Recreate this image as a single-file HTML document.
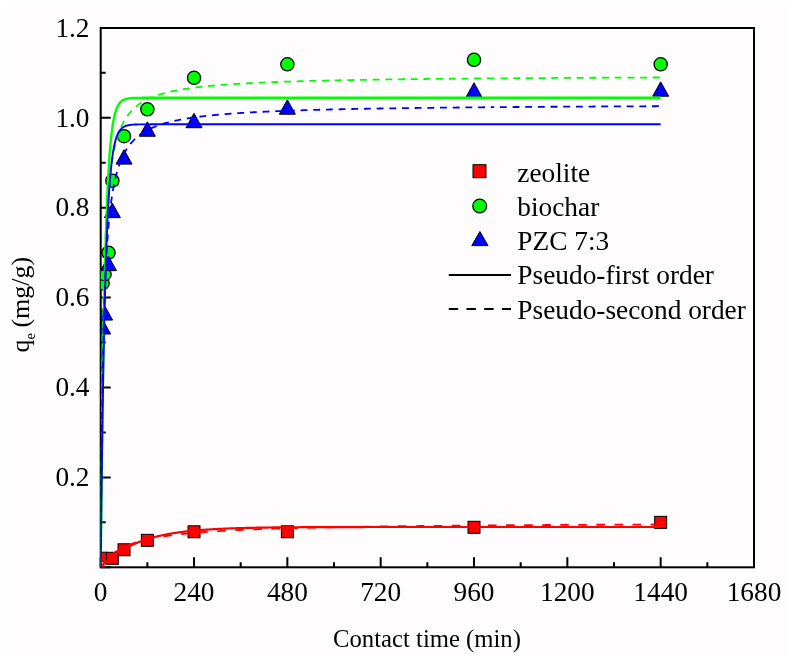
<!DOCTYPE html>
<html><head><meta charset="utf-8"><style>
html,body{margin:0;padding:0;background:#fff;}
svg{display:block;will-change:transform;}
text{font-family:"Liberation Serif",serif;fill:#000;}
</style></head><body>
<svg width="788" height="662" viewBox="0 0 788 662">
<defs>
<clipPath id="pc"><rect x="100.70" y="28.00" width="653.30" height="539.30"/></clipPath>
</defs>
<rect x="0" y="0" width="788" height="662" fill="#fff"/>
<rect x="7" y="7" width="781" height="649" fill="#fefcfc"/>

<path d="M100.70 567.30V557.30 M147.36 567.30V562.30 M194.03 567.30V557.30 M240.69 567.30V562.30 M287.36 567.30V557.30 M334.02 567.30V562.30 M380.69 567.30V557.30 M427.35 567.30V562.30 M474.01 567.30V557.30 M520.68 567.30V562.30 M567.34 567.30V557.30 M614.01 567.30V562.30 M660.67 567.30V557.30 M707.34 567.30V562.30 M754.00 567.30V557.30 M100.70 567.30H110.70 M100.70 522.35H105.70 M100.70 477.40H110.70 M100.70 432.45H105.70 M100.70 387.50H110.70 M100.70 342.55H105.70 M100.70 297.60H110.70 M100.70 252.65H105.70 M100.70 207.70H110.70 M100.70 162.75H105.70 M100.70 117.80H110.70 M100.70 72.85H105.70" stroke="#000" stroke-width="2" fill="none"/>
<rect x="100.70" y="28.00" width="653.30" height="539.30" fill="none" stroke="#000" stroke-width="2"/>
<g clip-path="url(#pc)">
<rect x="96" y="552.2" width="10.5" height="9.1" fill="#ff0000" stroke="#000" stroke-width="1"/>
<rect x="106.37" y="552.31" width="12.0" height="12.0" fill="#ff0000" stroke="#000" stroke-width="1"/>
<rect x="118.03" y="543.77" width="12.0" height="12.0" fill="#ff0000" stroke="#000" stroke-width="1"/>
<rect x="141.36" y="534.33" width="12.0" height="12.0" fill="#ff0000" stroke="#000" stroke-width="1"/>
<rect x="188.03" y="525.79" width="12.0" height="12.0" fill="#ff0000" stroke="#000" stroke-width="1"/>
<rect x="281.36" y="525.79" width="12.0" height="12.0" fill="#ff0000" stroke="#000" stroke-width="1"/>
<rect x="468.01" y="521.29" width="12.0" height="12.0" fill="#ff0000" stroke="#000" stroke-width="1"/>
<rect x="654.67" y="516.35" width="12.0" height="12.0" fill="#ff0000" stroke="#000" stroke-width="1"/>
<circle cx="102.64" cy="283.22" r="6.6" fill="#00ff00" stroke="#000" stroke-width="1.3"/>
<circle cx="104.59" cy="274.23" r="6.6" fill="#00ff00" stroke="#000" stroke-width="1.3"/>
<circle cx="108.48" cy="252.65" r="6.6" fill="#00ff00" stroke="#000" stroke-width="1.3"/>
<circle cx="112.37" cy="180.73" r="6.6" fill="#00ff00" stroke="#000" stroke-width="1.3"/>
<circle cx="124.03" cy="136.23" r="6.6" fill="#00ff00" stroke="#000" stroke-width="1.3"/>
<circle cx="147.36" cy="109.26" r="6.6" fill="#00ff00" stroke="#000" stroke-width="1.3"/>
<circle cx="194.03" cy="77.79" r="6.6" fill="#00ff00" stroke="#000" stroke-width="1.3"/>
<circle cx="287.36" cy="64.31" r="6.6" fill="#00ff00" stroke="#000" stroke-width="1.3"/>
<circle cx="474.01" cy="59.81" r="6.6" fill="#00ff00" stroke="#000" stroke-width="1.3"/>
<circle cx="660.67" cy="64.31" r="6.6" fill="#00ff00" stroke="#000" stroke-width="1.3"/>
<path d="M102.64 319.62L110.64 334.02L94.64 334.02Z" fill="#0000ff" stroke="#000" stroke-width="1" stroke-linejoin="miter"/>
<path d="M104.59 305.68L112.59 320.08L96.59 320.08Z" fill="#0000ff" stroke="#000" stroke-width="1" stroke-linejoin="miter"/>
<path d="M108.48 256.24L116.48 270.64L100.48 270.64Z" fill="#0000ff" stroke="#000" stroke-width="1" stroke-linejoin="miter"/>
<path d="M112.37 203.20L120.37 217.60L104.37 217.60Z" fill="#0000ff" stroke="#000" stroke-width="1" stroke-linejoin="miter"/>
<path d="M124.03 149.71L132.03 164.11L116.03 164.11Z" fill="#0000ff" stroke="#000" stroke-width="1" stroke-linejoin="miter"/>
<path d="M147.36 121.84L155.36 136.24L139.36 136.24Z" fill="#0000ff" stroke="#000" stroke-width="1" stroke-linejoin="miter"/>
<path d="M194.03 113.30L202.03 127.70L186.03 127.70Z" fill="#0000ff" stroke="#000" stroke-width="1" stroke-linejoin="miter"/>
<path d="M287.36 99.81L295.36 114.21L279.36 114.21Z" fill="#0000ff" stroke="#000" stroke-width="1" stroke-linejoin="miter"/>
<path d="M474.01 82.73L482.01 97.13L466.01 97.13Z" fill="#0000ff" stroke="#000" stroke-width="1" stroke-linejoin="miter"/>
<path d="M660.67 81.83L668.67 96.23L652.67 96.23Z" fill="#0000ff" stroke="#000" stroke-width="1" stroke-linejoin="miter"/>
<path d="M100.70 567.30 L100.74 567.26 L100.78 567.22 L100.82 567.18 L100.86 567.14 L100.89 567.10 L100.93 567.06 L100.97 567.02 L101.01 566.98 L101.05 566.94 L101.09 566.90 L101.13 566.86 L101.17 566.82 L101.21 566.78 L101.24 566.74 L101.28 566.70 L101.32 566.66 L101.36 566.62 L101.40 566.58 L101.44 566.54 L101.48 566.50 L101.52 566.46 L101.56 566.42 L101.59 566.38 L101.63 566.34 L101.67 566.30 L101.71 566.27 L101.75 566.23 L101.79 566.19 L101.83 566.15 L101.87 566.11 L101.91 566.07 L101.94 566.03 L101.98 565.99 L102.02 565.95 L102.06 565.91 L102.10 565.87 L102.14 565.84 L102.18 565.80 L102.22 565.76 L102.26 565.72 L102.29 565.68 L102.33 565.64 L102.37 565.60 L102.41 565.56 L102.45 565.53 L102.49 565.49 L102.53 565.45 L102.57 565.41 L102.61 565.37 L102.64 565.33 L102.68 565.30 L102.72 565.26 L102.76 565.22 L102.80 565.18 L102.84 565.14 L102.88 565.10 L102.92 565.07 L102.96 565.03 L102.99 564.99 L103.03 564.95 L103.07 564.91 L103.11 564.88 L103.15 564.84 L103.19 564.80 L103.23 564.76 L103.27 564.72 L103.31 564.69 L103.34 564.65 L103.38 564.61 L103.42 564.57 L103.46 564.54 L103.50 564.50 L103.54 564.46 L103.58 564.42 L103.62 564.39 L103.66 564.35 L103.69 564.31 L103.73 564.27 L103.77 564.24 L103.81 564.20 L103.85 564.16 L103.89 564.13 L103.93 564.09 L103.97 564.05 L104.01 564.01 L104.04 563.98 L104.08 563.94 L104.12 563.90 L104.16 563.87 L104.20 563.83 L104.24 563.79 L104.28 563.76 L104.32 563.72 L104.36 563.68 L104.39 563.65 L104.43 563.61 L104.47 563.57 L104.51 563.54 L104.55 563.50 L104.59 563.46 L104.63 563.43 L104.67 563.39 L104.71 563.35 L104.74 563.32 L104.78 563.28 L104.82 563.24 L104.86 563.21 L104.90 563.17 L104.94 563.14 L104.98 563.10 L105.02 563.06 L105.06 563.03 L105.09 562.99 L105.13 562.96 L105.17 562.92 L105.21 562.88 L105.25 562.85 L105.29 562.81 L105.33 562.78 L105.37 562.74 L105.41 562.70 L105.44 562.67 L105.48 562.63 L105.52 562.60 L105.56 562.56 L105.60 562.53 L105.64 562.49 L105.68 562.46 L105.72 562.42 L105.76 562.38 L105.79 562.35 L105.83 562.31 L105.87 562.28 L105.91 562.24 L105.95 562.21 L105.99 562.17 L106.03 562.14 L106.07 562.10 L106.11 562.07 L106.14 562.03 L106.18 562.00 L106.22 561.96 L106.26 561.93 L106.30 561.89 L106.34 561.86 L106.38 561.82 L106.42 561.79 L106.46 561.75 L106.49 561.72 L106.53 561.68 L106.57 561.65 L106.61 561.61 L106.65 561.58 L106.69 561.55 L106.73 561.51 L106.77 561.48 L106.81 561.44 L106.84 561.41 L106.88 561.37 L106.92 561.34 L106.96 561.30 L107.00 561.27 L107.04 561.24 L107.08 561.20 L107.12 561.17 L107.16 561.13 L107.19 561.10 L107.23 561.06 L107.27 561.03 L107.31 561.00 L107.35 560.96 L107.39 560.93 L107.43 560.89 L107.47 560.86 L107.51 560.83 L107.54 560.79 L107.58 560.76 L107.62 560.73 L107.66 560.69 L107.70 560.66 L107.74 560.62 L107.78 560.59 L107.82 560.56 L107.86 560.52 L107.89 560.49 L107.93 560.46 L107.97 560.42 L108.01 560.39 L108.05 560.36 L108.09 560.32 L108.13 560.29 L108.17 560.26 L108.21 560.22 L108.24 560.19 L108.28 560.16 L108.32 560.12 L108.36 560.09 L108.40 560.06 L108.44 560.02 L108.48 559.99 L108.67 559.83 L108.87 559.66 L109.06 559.50 L109.26 559.34 L109.45 559.18 L109.64 559.02 L109.84 558.86 L110.03 558.70 L110.23 558.54 L110.42 558.38 L110.62 558.22 L110.81 558.07 L111.01 557.91 L111.20 557.76 L111.39 557.61 L111.59 557.45 L111.78 557.30 L111.98 557.15 L112.17 557.00 L112.37 556.85 L112.56 556.70 L112.75 556.55 L112.95 556.41 L113.14 556.26 L113.34 556.11 L113.53 555.97 L113.73 555.82 L113.92 555.68 L114.12 555.54 L114.31 555.39 L114.50 555.25 L114.70 555.11 L114.89 554.97 L115.09 554.83 L115.28 554.69 L115.48 554.55 L115.67 554.42 L115.87 554.28 L116.06 554.14 L116.25 554.01 L116.45 553.87 L116.64 553.74 L116.84 553.60 L117.03 553.47 L117.23 553.34 L117.42 553.21 L117.62 553.08 L117.81 552.95 L118.00 552.82 L118.20 552.69 L118.39 552.56 L118.59 552.43 L118.78 552.31 L118.98 552.18 L119.17 552.05 L119.37 551.93 L119.56 551.80 L119.75 551.68 L119.95 551.56 L120.14 551.44 L120.34 551.31 L120.53 551.19 L120.73 551.07 L120.92 550.95 L121.12 550.83 L121.31 550.71 L121.50 550.59 L121.70 550.48 L121.89 550.36 L122.09 550.24 L122.28 550.13 L122.48 550.01 L122.67 549.90 L122.87 549.78 L123.06 549.67 L123.25 549.56 L123.45 549.44 L123.64 549.33 L123.84 549.22 L124.03 549.11 L124.23 549.00 L124.42 548.89 L124.62 548.78 L124.81 548.67 L125.00 548.56 L125.20 548.45 L125.39 548.35 L125.59 548.24 L125.78 548.13 L125.98 548.03 L126.17 547.92 L126.37 547.82 L126.56 547.72 L126.75 547.61 L126.95 547.51 L127.14 547.41 L127.34 547.30 L127.53 547.20 L127.73 547.10 L127.92 547.00 L128.12 546.90 L128.31 546.80 L128.50 546.70 L128.70 546.61 L128.89 546.51 L129.09 546.41 L129.28 546.31 L129.48 546.22 L129.67 546.12 L129.87 546.03 L130.06 545.93 L130.25 545.84 L130.45 545.74 L130.64 545.65 L130.84 545.56 L131.03 545.46 L131.23 545.37 L131.42 545.28 L131.62 545.19 L131.81 545.10 L132.00 545.01 L132.20 544.92 L132.39 544.83 L132.59 544.74 L132.78 544.65 L132.98 544.56 L133.17 544.47 L133.37 544.39 L133.56 544.30 L133.75 544.21 L133.95 544.13 L134.14 544.04 L134.34 543.96 L134.53 543.87 L134.73 543.79 L134.92 543.70 L135.11 543.62 L135.31 543.54 L135.50 543.45 L135.70 543.37 L135.89 543.29 L136.09 543.21 L136.28 543.13 L136.48 543.05 L136.67 542.97 L136.86 542.89 L137.06 542.81 L137.25 542.73 L137.45 542.65 L137.64 542.57 L137.84 542.50 L138.03 542.42 L138.23 542.34 L138.42 542.26 L138.61 542.19 L138.81 542.11 L139.00 542.04 L139.20 541.96 L139.39 541.89 L139.59 541.81 L140.36 541.52 L141.14 541.23 L141.92 540.95 L142.70 540.67 L143.48 540.40 L144.25 540.14 L145.03 539.88 L145.81 539.62 L146.59 539.37 L147.36 539.12 L148.14 538.88 L148.92 538.65 L149.70 538.42 L150.48 538.19 L151.25 537.97 L152.03 537.75 L152.81 537.54 L153.59 537.33 L154.36 537.12 L155.14 536.92 L155.92 536.73 L156.70 536.53 L157.47 536.34 L158.25 536.16 L159.03 535.98 L159.81 535.80 L160.59 535.62 L161.36 535.45 L162.14 535.28 L162.92 535.12 L163.70 534.96 L164.47 534.80 L165.25 534.65 L166.03 534.49 L166.81 534.35 L167.59 534.20 L168.36 534.06 L169.14 533.92 L169.92 533.78 L170.70 533.64 L171.47 533.51 L172.25 533.38 L173.03 533.26 L173.81 533.13 L174.59 533.01 L175.36 532.89 L176.14 532.77 L176.92 532.66 L177.70 532.55 L178.47 532.44 L179.25 532.33 L180.03 532.22 L180.81 532.12 L181.58 532.02 L182.36 531.92 L183.14 531.82 L183.92 531.72 L184.70 531.63 L185.47 531.54 L186.25 531.45 L187.03 531.36 L187.81 531.27 L188.58 531.19 L189.36 531.10 L190.14 531.02 L190.92 530.94 L191.70 530.86 L192.47 530.79 L193.25 530.71 L194.03 530.64 L194.81 530.57 L195.58 530.49 L196.36 530.42 L197.14 530.36 L197.92 530.29 L198.69 530.22 L199.47 530.16 L200.25 530.10 L201.03 530.04 L201.81 529.97 L202.58 529.92 L203.36 529.86 L204.14 529.80 L204.92 529.74 L205.69 529.69 L206.47 529.64 L207.25 529.58 L208.03 529.53 L208.81 529.48 L209.58 529.43 L210.36 529.38 L211.14 529.34 L211.92 529.29 L212.69 529.24 L213.47 529.20 L214.25 529.15 L215.03 529.11 L215.81 529.07 L216.58 529.03 L217.36 528.99 L218.14 528.95 L218.92 528.91 L219.69 528.87 L220.47 528.83 L221.25 528.80 L222.03 528.76 L222.80 528.73 L223.58 528.69 L224.36 528.66 L225.14 528.62 L225.92 528.59 L226.69 528.56 L227.47 528.53 L228.25 528.50 L229.03 528.47 L229.80 528.44 L230.58 528.41 L231.36 528.38 L232.14 528.35 L232.92 528.33 L233.69 528.30 L234.47 528.27 L235.25 528.25 L236.03 528.22 L236.80 528.20 L237.58 528.17 L238.36 528.15 L239.14 528.13 L239.92 528.10 L240.69 528.08 L241.47 528.06 L242.25 528.04 L243.03 528.02 L243.80 528.00 L244.58 527.98 L245.36 527.96 L246.14 527.94 L246.91 527.92 L247.69 527.90 L248.47 527.88 L249.25 527.86 L250.03 527.85 L250.80 527.83 L251.58 527.81 L252.36 527.80 L253.14 527.78 L253.91 527.76 L254.69 527.75 L255.47 527.73 L256.25 527.72 L257.03 527.70 L257.80 527.69 L258.58 527.68 L259.36 527.66 L260.14 527.65 L260.91 527.63 L261.69 527.62 L262.47 527.61 L263.25 527.60 L264.02 527.58 L264.80 527.57 L265.58 527.56 L266.36 527.55 L267.14 527.54 L267.91 527.53 L268.69 527.52 L269.47 527.51 L270.25 527.50 L271.02 527.48 L271.80 527.47 L272.58 527.47 L273.36 527.46 L274.14 527.45 L274.91 527.44 L275.69 527.43 L276.47 527.42 L277.25 527.41 L278.02 527.40 L278.80 527.39 L279.58 527.39 L280.36 527.38 L281.14 527.37 L281.91 527.36 L282.69 527.35 L283.47 527.35 L284.25 527.34 L285.02 527.33 L285.80 527.33 L286.58 527.32 L287.36 527.31 L288.13 527.31 L288.91 527.30 L289.69 527.29 L290.47 527.29 L291.25 527.28 L292.02 527.27 L292.80 527.27 L293.58 527.26 L294.36 527.26 L295.13 527.25 L295.91 527.25 L296.69 527.24 L297.47 527.24 L298.25 527.23 L299.02 527.23 L299.80 527.22 L300.58 527.22 L301.36 527.21 L302.13 527.21 L302.91 527.20 L303.69 527.20 L304.47 527.19 L305.25 527.19 L306.02 527.19 L306.80 527.18 L307.58 527.18 L308.36 527.17 L309.13 527.17 L309.91 527.17 L310.69 527.16 L311.47 527.16 L312.24 527.15 L313.02 527.15 L313.80 527.15 L314.58 527.14 L315.36 527.14 L316.13 527.14 L316.91 527.14 L317.69 527.13 L318.47 527.13 L319.24 527.13 L320.02 527.12 L320.80 527.12 L321.58 527.12 L322.36 527.11 L323.13 527.11 L323.91 527.11 L324.69 527.11 L325.47 527.10 L326.24 527.10 L327.02 527.10 L327.80 527.10 L328.58 527.09 L329.36 527.09 L330.13 527.09 L330.91 527.09 L331.69 527.09 L332.47 527.08 L333.24 527.08 L334.02 527.08 L334.80 527.08 L335.58 527.08 L336.35 527.07 L337.13 527.07 L337.91 527.07 L338.69 527.07 L339.47 527.07 L340.24 527.07 L341.02 527.06 L341.80 527.06 L342.58 527.06 L343.35 527.06 L344.13 527.06 L344.91 527.06 L345.69 527.05 L346.47 527.05 L347.24 527.05 L348.02 527.05 L348.80 527.05 L349.58 527.05 L350.35 527.05 L351.13 527.04 L351.91 527.04 L352.69 527.04 L353.46 527.04 L354.24 527.04 L355.02 527.04 L355.80 527.04 L356.58 527.04 L357.35 527.03 L358.13 527.03 L358.91 527.03 L359.69 527.03 L360.46 527.03 L361.24 527.03 L362.02 527.03 L362.80 527.03 L363.58 527.03 L364.35 527.03 L365.13 527.02 L365.91 527.02 L366.69 527.02 L367.46 527.02 L368.24 527.02 L369.02 527.02 L369.80 527.02 L370.58 527.02 L371.35 527.02 L372.13 527.02 L372.91 527.02 L373.69 527.02 L374.46 527.02 L375.24 527.01 L376.02 527.01 L376.80 527.01 L377.57 527.01 L378.35 527.01 L379.13 527.01 L379.91 527.01 L380.69 527.01 L381.46 527.01 L382.24 527.01 L383.02 527.01 L383.80 527.01 L384.57 527.01 L385.35 527.01 L386.13 527.01 L386.91 527.01 L387.69 527.00 L388.46 527.00 L389.24 527.00 L390.02 527.00 L390.80 527.00 L391.57 527.00 L392.35 527.00 L393.13 527.00 L393.91 527.00 L394.69 527.00 L395.46 527.00 L396.24 527.00 L397.02 527.00 L397.80 527.00 L398.57 527.00 L399.35 527.00 L400.13 527.00 L400.91 527.00 L401.68 527.00 L402.46 527.00 L403.24 527.00 L404.02 527.00 L404.80 527.00 L405.57 527.00 L406.35 527.00 L407.13 527.00 L407.91 526.99 L408.68 526.99 L409.46 526.99 L410.24 526.99 L411.02 526.99 L411.80 526.99 L412.57 526.99 L413.35 526.99 L414.13 526.99 L414.91 526.99 L415.68 526.99 L416.46 526.99 L417.24 526.99 L418.02 526.99 L418.79 526.99 L419.57 526.99 L420.35 526.99 L421.13 526.99 L421.91 526.99 L422.68 526.99 L423.46 526.99 L424.24 526.99 L425.02 526.99 L425.79 526.99 L426.57 526.99 L427.35 526.99 L428.13 526.99 L428.91 526.99 L429.68 526.99 L430.46 526.99 L431.24 526.99 L432.02 526.99 L432.79 526.99 L433.57 526.99 L434.35 526.99 L435.13 526.99 L435.91 526.99 L436.68 526.99 L437.46 526.99 L438.24 526.99 L439.02 526.99 L439.79 526.99 L440.57 526.99 L441.35 526.99 L442.13 526.99 L442.90 526.99 L443.68 526.99 L444.46 526.99 L445.24 526.99 L446.02 526.99 L446.79 526.99 L447.57 526.99 L448.35 526.99 L449.13 526.99 L449.90 526.98 L450.68 526.98 L451.46 526.98 L452.24 526.98 L453.02 526.98 L453.79 526.98 L454.57 526.98 L455.35 526.98 L456.13 526.98 L456.90 526.98 L457.68 526.98 L458.46 526.98 L459.24 526.98 L460.01 526.98 L460.79 526.98 L461.57 526.98 L462.35 526.98 L463.13 526.98 L463.90 526.98 L464.68 526.98 L465.46 526.98 L466.24 526.98 L467.01 526.98 L467.79 526.98 L468.57 526.98 L469.35 526.98 L470.13 526.98 L470.90 526.98 L471.68 526.98 L472.46 526.98 L473.24 526.98 L474.01 526.98 L474.79 526.98 L475.57 526.98 L476.35 526.98 L477.13 526.98 L477.90 526.98 L478.68 526.98 L479.46 526.98 L480.24 526.98 L481.01 526.98 L481.79 526.98 L482.57 526.98 L483.35 526.98 L484.12 526.98 L484.90 526.98 L485.68 526.98 L486.46 526.98 L487.24 526.98 L488.01 526.98 L488.79 526.98 L489.57 526.98 L490.35 526.98 L491.12 526.98 L491.90 526.98 L492.68 526.98 L493.46 526.98 L494.24 526.98 L495.01 526.98 L495.79 526.98 L496.57 526.98 L497.35 526.98 L498.12 526.98 L498.90 526.98 L499.68 526.98 L500.46 526.98 L501.24 526.98 L502.01 526.98 L502.79 526.98 L503.57 526.98 L504.35 526.98 L505.12 526.98 L505.90 526.98 L506.68 526.98 L507.46 526.98 L508.23 526.98 L509.01 526.98 L509.79 526.98 L510.57 526.98 L511.35 526.98 L512.12 526.98 L512.90 526.98 L513.68 526.98 L514.46 526.98 L515.23 526.98 L516.01 526.98 L516.79 526.98 L517.57 526.98 L518.35 526.98 L519.12 526.98 L519.90 526.98 L520.68 526.98 L521.46 526.98 L522.23 526.98 L523.01 526.98 L523.79 526.98 L524.57 526.98 L525.35 526.98 L526.12 526.98 L526.90 526.98 L527.68 526.98 L528.46 526.98 L529.23 526.98 L530.01 526.98 L530.79 526.98 L531.57 526.98 L532.34 526.98 L533.12 526.98 L533.90 526.98 L534.68 526.98 L535.46 526.98 L536.23 526.98 L537.01 526.98 L537.79 526.98 L538.57 526.98 L539.34 526.98 L540.12 526.98 L540.90 526.98 L541.68 526.98 L542.46 526.98 L543.23 526.98 L544.01 526.98 L544.79 526.98 L545.57 526.98 L546.34 526.98 L547.12 526.98 L547.90 526.98 L548.68 526.98 L549.45 526.98 L550.23 526.98 L551.01 526.98 L551.79 526.98 L552.57 526.98 L553.34 526.98 L554.12 526.98 L554.90 526.98 L555.68 526.98 L556.45 526.98 L557.23 526.98 L558.01 526.98 L558.79 526.98 L559.57 526.98 L560.34 526.98 L561.12 526.98 L561.90 526.98 L562.68 526.98 L563.45 526.98 L564.23 526.98 L565.01 526.98 L565.79 526.98 L566.57 526.98 L567.34 526.98 L568.12 526.98 L568.90 526.98 L569.68 526.98 L570.45 526.98 L571.23 526.98 L572.01 526.98 L572.79 526.98 L573.56 526.98 L574.34 526.98 L575.12 526.98 L575.90 526.98 L576.68 526.98 L577.45 526.98 L578.23 526.98 L579.01 526.98 L579.79 526.98 L580.56 526.98 L581.34 526.98 L582.12 526.98 L582.90 526.98 L583.68 526.98 L584.45 526.98 L585.23 526.98 L586.01 526.98 L586.79 526.98 L587.56 526.98 L588.34 526.98 L589.12 526.98 L589.90 526.98 L590.67 526.98 L591.45 526.98 L592.23 526.98 L593.01 526.98 L593.79 526.98 L594.56 526.98 L595.34 526.98 L596.12 526.98 L596.90 526.98 L597.67 526.98 L598.45 526.98 L599.23 526.98 L600.01 526.98 L600.79 526.98 L601.56 526.98 L602.34 526.98 L603.12 526.98 L603.90 526.98 L604.67 526.98 L605.45 526.98 L606.23 526.98 L607.01 526.98 L607.79 526.98 L608.56 526.98 L609.34 526.98 L610.12 526.98 L610.90 526.98 L611.67 526.98 L612.45 526.98 L613.23 526.98 L614.01 526.98 L614.78 526.98 L615.56 526.98 L616.34 526.98 L617.12 526.98 L617.90 526.98 L618.67 526.98 L619.45 526.98 L620.23 526.98 L621.01 526.98 L621.78 526.98 L622.56 526.98 L623.34 526.98 L624.12 526.98 L624.90 526.98 L625.67 526.98 L626.45 526.98 L627.23 526.98 L628.01 526.98 L628.78 526.98 L629.56 526.98 L630.34 526.98 L631.12 526.98 L631.90 526.98 L632.67 526.98 L633.45 526.98 L634.23 526.98 L635.01 526.98 L635.78 526.98 L636.56 526.98 L637.34 526.98 L638.12 526.98 L638.89 526.98 L639.67 526.98 L640.45 526.98 L641.23 526.98 L642.01 526.98 L642.78 526.98 L643.56 526.98 L644.34 526.98 L645.12 526.98 L645.89 526.98 L646.67 526.98 L647.45 526.98 L648.23 526.98 L649.01 526.98 L649.78 526.98 L650.56 526.98 L651.34 526.98 L652.12 526.98 L652.89 526.98 L653.67 526.98 L654.45 526.98 L655.23 526.98 L656.00 526.98 L656.78 526.98 L657.56 526.98 L658.34 526.98 L659.12 526.98 L659.89 526.98 L660.67 526.98" fill="none" stroke="#ff0000" stroke-width="2.2"/>
<path d="M100.70 567.30 L100.74 567.24 L100.78 567.18 L100.82 567.12 L100.86 567.06 L100.89 567.00 L100.93 566.94 L100.97 566.88 L101.01 566.82 L101.05 566.76 L101.09 566.70 L101.13 566.64 L101.17 566.58 L101.21 566.52 L101.24 566.46 L101.28 566.40 L101.32 566.34 L101.36 566.28 L101.40 566.23 L101.44 566.17 L101.48 566.11 L101.52 566.05 L101.56 565.99 L101.59 565.94 L101.63 565.88 L101.67 565.82 L101.71 565.76 L101.75 565.71 L101.79 565.65 L101.83 565.59 L101.87 565.54 L101.91 565.48 L101.94 565.42 L101.98 565.37 L102.02 565.31 L102.06 565.26 L102.10 565.20 L102.14 565.15 L102.18 565.09 L102.22 565.03 L102.26 564.98 L102.29 564.92 L102.33 564.87 L102.37 564.82 L102.41 564.76 L102.45 564.71 L102.49 564.65 L102.53 564.60 L102.57 564.54 L102.61 564.49 L102.64 564.44 L102.68 564.38 L102.72 564.33 L102.76 564.28 L102.80 564.22 L102.84 564.17 L102.88 564.12 L102.92 564.06 L102.96 564.01 L102.99 563.96 L103.03 563.91 L103.07 563.86 L103.11 563.80 L103.15 563.75 L103.19 563.70 L103.23 563.65 L103.27 563.60 L103.31 563.54 L103.34 563.49 L103.38 563.44 L103.42 563.39 L103.46 563.34 L103.50 563.29 L103.54 563.24 L103.58 563.19 L103.62 563.14 L103.66 563.09 L103.69 563.04 L103.73 562.99 L103.77 562.94 L103.81 562.89 L103.85 562.84 L103.89 562.79 L103.93 562.74 L103.97 562.69 L104.01 562.64 L104.04 562.59 L104.08 562.54 L104.12 562.49 L104.16 562.44 L104.20 562.40 L104.24 562.35 L104.28 562.30 L104.32 562.25 L104.36 562.20 L104.39 562.15 L104.43 562.11 L104.47 562.06 L104.51 562.01 L104.55 561.96 L104.59 561.92 L104.63 561.87 L104.67 561.82 L104.71 561.77 L104.74 561.73 L104.78 561.68 L104.82 561.63 L104.86 561.59 L104.90 561.54 L104.94 561.49 L104.98 561.45 L105.02 561.40 L105.06 561.36 L105.09 561.31 L105.13 561.26 L105.17 561.22 L105.21 561.17 L105.25 561.13 L105.29 561.08 L105.33 561.04 L105.37 560.99 L105.41 560.95 L105.44 560.90 L105.48 560.86 L105.52 560.81 L105.56 560.77 L105.60 560.72 L105.64 560.68 L105.68 560.63 L105.72 560.59 L105.76 560.54 L105.79 560.50 L105.83 560.46 L105.87 560.41 L105.91 560.37 L105.95 560.32 L105.99 560.28 L106.03 560.24 L106.07 560.19 L106.11 560.15 L106.14 560.11 L106.18 560.06 L106.22 560.02 L106.26 559.98 L106.30 559.93 L106.34 559.89 L106.38 559.85 L106.42 559.81 L106.46 559.76 L106.49 559.72 L106.53 559.68 L106.57 559.64 L106.61 559.60 L106.65 559.55 L106.69 559.51 L106.73 559.47 L106.77 559.43 L106.81 559.39 L106.84 559.35 L106.88 559.30 L106.92 559.26 L106.96 559.22 L107.00 559.18 L107.04 559.14 L107.08 559.10 L107.12 559.06 L107.16 559.02 L107.19 558.98 L107.23 558.94 L107.27 558.90 L107.31 558.85 L107.35 558.81 L107.39 558.77 L107.43 558.73 L107.47 558.69 L107.51 558.65 L107.54 558.61 L107.58 558.57 L107.62 558.53 L107.66 558.50 L107.70 558.46 L107.74 558.42 L107.78 558.38 L107.82 558.34 L107.86 558.30 L107.89 558.26 L107.93 558.22 L107.97 558.18 L108.01 558.14 L108.05 558.10 L108.09 558.07 L108.13 558.03 L108.17 557.99 L108.21 557.95 L108.24 557.91 L108.28 557.87 L108.32 557.83 L108.36 557.80 L108.40 557.76 L108.44 557.72 L108.48 557.68 L108.67 557.49 L108.87 557.31 L109.06 557.12 L109.26 556.94 L109.45 556.76 L109.64 556.58 L109.84 556.41 L110.03 556.23 L110.23 556.06 L110.42 555.89 L110.62 555.72 L110.81 555.55 L111.01 555.39 L111.20 555.22 L111.39 555.06 L111.59 554.90 L111.78 554.74 L111.98 554.58 L112.17 554.42 L112.37 554.27 L112.56 554.11 L112.75 553.96 L112.95 553.81 L113.14 553.66 L113.34 553.51 L113.53 553.37 L113.73 553.22 L113.92 553.08 L114.12 552.94 L114.31 552.80 L114.50 552.66 L114.70 552.52 L114.89 552.38 L115.09 552.24 L115.28 552.11 L115.48 551.98 L115.67 551.84 L115.87 551.71 L116.06 551.58 L116.25 551.45 L116.45 551.33 L116.64 551.20 L116.84 551.07 L117.03 550.95 L117.23 550.83 L117.42 550.70 L117.62 550.58 L117.81 550.46 L118.00 550.34 L118.20 550.22 L118.39 550.11 L118.59 549.99 L118.78 549.88 L118.98 549.76 L119.17 549.65 L119.37 549.53 L119.56 549.42 L119.75 549.31 L119.95 549.20 L120.14 549.09 L120.34 548.99 L120.53 548.88 L120.73 548.77 L120.92 548.67 L121.12 548.56 L121.31 548.46 L121.50 548.36 L121.70 548.25 L121.89 548.15 L122.09 548.05 L122.28 547.95 L122.48 547.85 L122.67 547.76 L122.87 547.66 L123.06 547.56 L123.25 547.47 L123.45 547.37 L123.64 547.28 L123.84 547.18 L124.03 547.09 L124.23 547.00 L124.42 546.90 L124.62 546.81 L124.81 546.72 L125.00 546.63 L125.20 546.54 L125.39 546.46 L125.59 546.37 L125.78 546.28 L125.98 546.19 L126.17 546.11 L126.37 546.02 L126.56 545.94 L126.75 545.85 L126.95 545.77 L127.14 545.69 L127.34 545.61 L127.53 545.52 L127.73 545.44 L127.92 545.36 L128.12 545.28 L128.31 545.20 L128.50 545.12 L128.70 545.05 L128.89 544.97 L129.09 544.89 L129.28 544.81 L129.48 544.74 L129.67 544.66 L129.87 544.59 L130.06 544.51 L130.25 544.44 L130.45 544.36 L130.64 544.29 L130.84 544.22 L131.03 544.15 L131.23 544.07 L131.42 544.00 L131.62 543.93 L131.81 543.86 L132.00 543.79 L132.20 543.72 L132.39 543.65 L132.59 543.58 L132.78 543.52 L132.98 543.45 L133.17 543.38 L133.37 543.31 L133.56 543.25 L133.75 543.18 L133.95 543.12 L134.14 543.05 L134.34 542.99 L134.53 542.92 L134.73 542.86 L134.92 542.79 L135.11 542.73 L135.31 542.67 L135.50 542.61 L135.70 542.54 L135.89 542.48 L136.09 542.42 L136.28 542.36 L136.48 542.30 L136.67 542.24 L136.86 542.18 L137.06 542.12 L137.25 542.06 L137.45 542.00 L137.64 541.94 L137.84 541.88 L138.03 541.83 L138.23 541.77 L138.42 541.71 L138.61 541.66 L138.81 541.60 L139.00 541.54 L139.20 541.49 L139.39 541.43 L139.59 541.38 L140.36 541.16 L141.14 540.95 L141.92 540.74 L142.70 540.54 L143.48 540.34 L144.25 540.14 L145.03 539.95 L145.81 539.77 L146.59 539.59 L147.36 539.41 L148.14 539.23 L148.92 539.06 L149.70 538.89 L150.48 538.73 L151.25 538.57 L152.03 538.41 L152.81 538.25 L153.59 538.10 L154.36 537.95 L155.14 537.81 L155.92 537.66 L156.70 537.52 L157.47 537.38 L158.25 537.25 L159.03 537.11 L159.81 536.98 L160.59 536.85 L161.36 536.72 L162.14 536.60 L162.92 536.48 L163.70 536.36 L164.47 536.24 L165.25 536.12 L166.03 536.01 L166.81 535.90 L167.59 535.79 L168.36 535.68 L169.14 535.57 L169.92 535.46 L170.70 535.36 L171.47 535.26 L172.25 535.16 L173.03 535.06 L173.81 534.96 L174.59 534.86 L175.36 534.77 L176.14 534.68 L176.92 534.59 L177.70 534.49 L178.47 534.41 L179.25 534.32 L180.03 534.23 L180.81 534.15 L181.58 534.06 L182.36 533.98 L183.14 533.90 L183.92 533.82 L184.70 533.74 L185.47 533.66 L186.25 533.58 L187.03 533.51 L187.81 533.43 L188.58 533.36 L189.36 533.28 L190.14 533.21 L190.92 533.14 L191.70 533.07 L192.47 533.00 L193.25 532.93 L194.03 532.86 L194.81 532.80 L195.58 532.73 L196.36 532.66 L197.14 532.60 L197.92 532.54 L198.69 532.47 L199.47 532.41 L200.25 532.35 L201.03 532.29 L201.81 532.23 L202.58 532.17 L203.36 532.11 L204.14 532.05 L204.92 532.00 L205.69 531.94 L206.47 531.88 L207.25 531.83 L208.03 531.77 L208.81 531.72 L209.58 531.67 L210.36 531.62 L211.14 531.56 L211.92 531.51 L212.69 531.46 L213.47 531.41 L214.25 531.36 L215.03 531.31 L215.81 531.26 L216.58 531.21 L217.36 531.17 L218.14 531.12 L218.92 531.07 L219.69 531.03 L220.47 530.98 L221.25 530.94 L222.03 530.89 L222.80 530.85 L223.58 530.80 L224.36 530.76 L225.14 530.72 L225.92 530.67 L226.69 530.63 L227.47 530.59 L228.25 530.55 L229.03 530.51 L229.80 530.47 L230.58 530.43 L231.36 530.39 L232.14 530.35 L232.92 530.31 L233.69 530.27 L234.47 530.23 L235.25 530.20 L236.03 530.16 L236.80 530.12 L237.58 530.08 L238.36 530.05 L239.14 530.01 L239.92 529.98 L240.69 529.94 L241.47 529.91 L242.25 529.87 L243.03 529.84 L243.80 529.80 L244.58 529.77 L245.36 529.73 L246.14 529.70 L246.91 529.67 L247.69 529.64 L248.47 529.60 L249.25 529.57 L250.03 529.54 L250.80 529.51 L251.58 529.48 L252.36 529.45 L253.14 529.42 L253.91 529.39 L254.69 529.35 L255.47 529.32 L256.25 529.30 L257.03 529.27 L257.80 529.24 L258.58 529.21 L259.36 529.18 L260.14 529.15 L260.91 529.12 L261.69 529.09 L262.47 529.07 L263.25 529.04 L264.02 529.01 L264.80 528.99 L265.58 528.96 L266.36 528.93 L267.14 528.91 L267.91 528.88 L268.69 528.85 L269.47 528.83 L270.25 528.80 L271.02 528.78 L271.80 528.75 L272.58 528.73 L273.36 528.70 L274.14 528.68 L274.91 528.65 L275.69 528.63 L276.47 528.60 L277.25 528.58 L278.02 528.56 L278.80 528.53 L279.58 528.51 L280.36 528.49 L281.14 528.46 L281.91 528.44 L282.69 528.42 L283.47 528.40 L284.25 528.37 L285.02 528.35 L285.80 528.33 L286.58 528.31 L287.36 528.29 L288.13 528.26 L288.91 528.24 L289.69 528.22 L290.47 528.20 L291.25 528.18 L292.02 528.16 L292.80 528.14 L293.58 528.12 L294.36 528.10 L295.13 528.08 L295.91 528.06 L296.69 528.04 L297.47 528.02 L298.25 528.00 L299.02 527.98 L299.80 527.96 L300.58 527.94 L301.36 527.92 L302.13 527.90 L302.91 527.88 L303.69 527.86 L304.47 527.84 L305.25 527.83 L306.02 527.81 L306.80 527.79 L307.58 527.77 L308.36 527.75 L309.13 527.74 L309.91 527.72 L310.69 527.70 L311.47 527.68 L312.24 527.67 L313.02 527.65 L313.80 527.63 L314.58 527.61 L315.36 527.60 L316.13 527.58 L316.91 527.56 L317.69 527.55 L318.47 527.53 L319.24 527.51 L320.02 527.50 L320.80 527.48 L321.58 527.46 L322.36 527.45 L323.13 527.43 L323.91 527.42 L324.69 527.40 L325.47 527.39 L326.24 527.37 L327.02 527.35 L327.80 527.34 L328.58 527.32 L329.36 527.31 L330.13 527.29 L330.91 527.28 L331.69 527.26 L332.47 527.25 L333.24 527.23 L334.02 527.22 L334.80 527.21 L335.58 527.19 L336.35 527.18 L337.13 527.16 L337.91 527.15 L338.69 527.13 L339.47 527.12 L340.24 527.11 L341.02 527.09 L341.80 527.08 L342.58 527.06 L343.35 527.05 L344.13 527.04 L344.91 527.02 L345.69 527.01 L346.47 527.00 L347.24 526.98 L348.02 526.97 L348.80 526.96 L349.58 526.94 L350.35 526.93 L351.13 526.92 L351.91 526.91 L352.69 526.89 L353.46 526.88 L354.24 526.87 L355.02 526.85 L355.80 526.84 L356.58 526.83 L357.35 526.82 L358.13 526.81 L358.91 526.79 L359.69 526.78 L360.46 526.77 L361.24 526.76 L362.02 526.75 L362.80 526.73 L363.58 526.72 L364.35 526.71 L365.13 526.70 L365.91 526.69 L366.69 526.67 L367.46 526.66 L368.24 526.65 L369.02 526.64 L369.80 526.63 L370.58 526.62 L371.35 526.61 L372.13 526.60 L372.91 526.58 L373.69 526.57 L374.46 526.56 L375.24 526.55 L376.02 526.54 L376.80 526.53 L377.57 526.52 L378.35 526.51 L379.13 526.50 L379.91 526.49 L380.69 526.48 L381.46 526.47 L382.24 526.46 L383.02 526.45 L383.80 526.43 L384.57 526.42 L385.35 526.41 L386.13 526.40 L386.91 526.39 L387.69 526.38 L388.46 526.37 L389.24 526.36 L390.02 526.35 L390.80 526.34 L391.57 526.33 L392.35 526.32 L393.13 526.31 L393.91 526.31 L394.69 526.30 L395.46 526.29 L396.24 526.28 L397.02 526.27 L397.80 526.26 L398.57 526.25 L399.35 526.24 L400.13 526.23 L400.91 526.22 L401.68 526.21 L402.46 526.20 L403.24 526.19 L404.02 526.18 L404.80 526.17 L405.57 526.17 L406.35 526.16 L407.13 526.15 L407.91 526.14 L408.68 526.13 L409.46 526.12 L410.24 526.11 L411.02 526.10 L411.80 526.09 L412.57 526.09 L413.35 526.08 L414.13 526.07 L414.91 526.06 L415.68 526.05 L416.46 526.04 L417.24 526.03 L418.02 526.03 L418.79 526.02 L419.57 526.01 L420.35 526.00 L421.13 525.99 L421.91 525.99 L422.68 525.98 L423.46 525.97 L424.24 525.96 L425.02 525.95 L425.79 525.94 L426.57 525.94 L427.35 525.93 L428.13 525.92 L428.91 525.91 L429.68 525.90 L430.46 525.90 L431.24 525.89 L432.02 525.88 L432.79 525.87 L433.57 525.87 L434.35 525.86 L435.13 525.85 L435.91 525.84 L436.68 525.84 L437.46 525.83 L438.24 525.82 L439.02 525.81 L439.79 525.81 L440.57 525.80 L441.35 525.79 L442.13 525.78 L442.90 525.78 L443.68 525.77 L444.46 525.76 L445.24 525.75 L446.02 525.75 L446.79 525.74 L447.57 525.73 L448.35 525.73 L449.13 525.72 L449.90 525.71 L450.68 525.71 L451.46 525.70 L452.24 525.69 L453.02 525.68 L453.79 525.68 L454.57 525.67 L455.35 525.66 L456.13 525.66 L456.90 525.65 L457.68 525.64 L458.46 525.64 L459.24 525.63 L460.01 525.62 L460.79 525.62 L461.57 525.61 L462.35 525.60 L463.13 525.60 L463.90 525.59 L464.68 525.58 L465.46 525.58 L466.24 525.57 L467.01 525.56 L467.79 525.56 L468.57 525.55 L469.35 525.55 L470.13 525.54 L470.90 525.53 L471.68 525.53 L472.46 525.52 L473.24 525.51 L474.01 525.51 L474.79 525.50 L475.57 525.50 L476.35 525.49 L477.13 525.48 L477.90 525.48 L478.68 525.47 L479.46 525.47 L480.24 525.46 L481.01 525.45 L481.79 525.45 L482.57 525.44 L483.35 525.44 L484.12 525.43 L484.90 525.42 L485.68 525.42 L486.46 525.41 L487.24 525.41 L488.01 525.40 L488.79 525.39 L489.57 525.39 L490.35 525.38 L491.12 525.38 L491.90 525.37 L492.68 525.37 L493.46 525.36 L494.24 525.35 L495.01 525.35 L495.79 525.34 L496.57 525.34 L497.35 525.33 L498.12 525.33 L498.90 525.32 L499.68 525.32 L500.46 525.31 L501.24 525.30 L502.01 525.30 L502.79 525.29 L503.57 525.29 L504.35 525.28 L505.12 525.28 L505.90 525.27 L506.68 525.27 L507.46 525.26 L508.23 525.26 L509.01 525.25 L509.79 525.25 L510.57 525.24 L511.35 525.24 L512.12 525.23 L512.90 525.23 L513.68 525.22 L514.46 525.22 L515.23 525.21 L516.01 525.20 L516.79 525.20 L517.57 525.19 L518.35 525.19 L519.12 525.18 L519.90 525.18 L520.68 525.17 L521.46 525.17 L522.23 525.16 L523.01 525.16 L523.79 525.15 L524.57 525.15 L525.35 525.15 L526.12 525.14 L526.90 525.14 L527.68 525.13 L528.46 525.13 L529.23 525.12 L530.01 525.12 L530.79 525.11 L531.57 525.11 L532.34 525.10 L533.12 525.10 L533.90 525.09 L534.68 525.09 L535.46 525.08 L536.23 525.08 L537.01 525.07 L537.79 525.07 L538.57 525.06 L539.34 525.06 L540.12 525.06 L540.90 525.05 L541.68 525.05 L542.46 525.04 L543.23 525.04 L544.01 525.03 L544.79 525.03 L545.57 525.02 L546.34 525.02 L547.12 525.01 L547.90 525.01 L548.68 525.01 L549.45 525.00 L550.23 525.00 L551.01 524.99 L551.79 524.99 L552.57 524.98 L553.34 524.98 L554.12 524.98 L554.90 524.97 L555.68 524.97 L556.45 524.96 L557.23 524.96 L558.01 524.95 L558.79 524.95 L559.57 524.95 L560.34 524.94 L561.12 524.94 L561.90 524.93 L562.68 524.93 L563.45 524.92 L564.23 524.92 L565.01 524.92 L565.79 524.91 L566.57 524.91 L567.34 524.90 L568.12 524.90 L568.90 524.90 L569.68 524.89 L570.45 524.89 L571.23 524.88 L572.01 524.88 L572.79 524.88 L573.56 524.87 L574.34 524.87 L575.12 524.86 L575.90 524.86 L576.68 524.86 L577.45 524.85 L578.23 524.85 L579.01 524.84 L579.79 524.84 L580.56 524.84 L581.34 524.83 L582.12 524.83 L582.90 524.83 L583.68 524.82 L584.45 524.82 L585.23 524.81 L586.01 524.81 L586.79 524.81 L587.56 524.80 L588.34 524.80 L589.12 524.79 L589.90 524.79 L590.67 524.79 L591.45 524.78 L592.23 524.78 L593.01 524.78 L593.79 524.77 L594.56 524.77 L595.34 524.77 L596.12 524.76 L596.90 524.76 L597.67 524.75 L598.45 524.75 L599.23 524.75 L600.01 524.74 L600.79 524.74 L601.56 524.74 L602.34 524.73 L603.12 524.73 L603.90 524.73 L604.67 524.72 L605.45 524.72 L606.23 524.72 L607.01 524.71 L607.79 524.71 L608.56 524.70 L609.34 524.70 L610.12 524.70 L610.90 524.69 L611.67 524.69 L612.45 524.69 L613.23 524.68 L614.01 524.68 L614.78 524.68 L615.56 524.67 L616.34 524.67 L617.12 524.67 L617.90 524.66 L618.67 524.66 L619.45 524.66 L620.23 524.65 L621.01 524.65 L621.78 524.65 L622.56 524.64 L623.34 524.64 L624.12 524.64 L624.90 524.63 L625.67 524.63 L626.45 524.63 L627.23 524.62 L628.01 524.62 L628.78 524.62 L629.56 524.61 L630.34 524.61 L631.12 524.61 L631.90 524.60 L632.67 524.60 L633.45 524.60 L634.23 524.60 L635.01 524.59 L635.78 524.59 L636.56 524.59 L637.34 524.58 L638.12 524.58 L638.89 524.58 L639.67 524.57 L640.45 524.57 L641.23 524.57 L642.01 524.56 L642.78 524.56 L643.56 524.56 L644.34 524.55 L645.12 524.55 L645.89 524.55 L646.67 524.55 L647.45 524.54 L648.23 524.54 L649.01 524.54 L649.78 524.53 L650.56 524.53 L651.34 524.53 L652.12 524.52 L652.89 524.52 L653.67 524.52 L654.45 524.52 L655.23 524.51 L656.00 524.51 L656.78 524.51 L657.56 524.50 L658.34 524.50 L659.12 524.50 L659.89 524.50 L660.67 524.49" fill="none" stroke="#ff0000" stroke-width="1.8" stroke-dasharray="8.60 9.46" stroke-dashoffset="0.07"/>
<path d="M100.70 567.30 L100.74 563.00 L100.78 558.74 L100.82 554.52 L100.86 550.34 L100.89 546.19 L100.93 542.09 L100.97 538.02 L101.01 533.99 L101.05 529.99 L101.09 526.03 L101.13 522.11 L101.17 518.23 L101.21 514.38 L101.24 510.56 L101.28 506.78 L101.32 503.04 L101.36 499.32 L101.40 495.65 L101.44 492.00 L101.48 488.39 L101.52 484.82 L101.56 481.27 L101.59 477.76 L101.63 474.28 L101.67 470.83 L101.71 467.42 L101.75 464.03 L101.79 460.68 L101.83 457.35 L101.87 454.06 L101.91 450.80 L101.94 447.57 L101.98 444.36 L102.02 441.19 L102.06 438.05 L102.10 434.93 L102.14 431.84 L102.18 428.78 L102.22 425.75 L102.26 422.75 L102.29 419.77 L102.33 416.82 L102.37 413.90 L102.41 411.01 L102.45 408.14 L102.49 405.30 L102.53 402.48 L102.57 399.69 L102.61 396.93 L102.64 394.19 L102.68 391.47 L102.72 388.78 L102.76 386.12 L102.80 383.48 L102.84 380.86 L102.88 378.27 L102.92 375.70 L102.96 373.16 L102.99 370.63 L103.03 368.14 L103.07 365.66 L103.11 363.21 L103.15 360.78 L103.19 358.37 L103.23 355.98 L103.27 353.62 L103.31 351.27 L103.34 348.95 L103.38 346.65 L103.42 344.37 L103.46 342.12 L103.50 339.88 L103.54 337.66 L103.58 335.47 L103.62 333.29 L103.66 331.13 L103.69 329.00 L103.73 326.88 L103.77 324.78 L103.81 322.70 L103.85 320.64 L103.89 318.60 L103.93 316.58 L103.97 314.58 L104.01 312.59 L104.04 310.62 L104.08 308.67 L104.12 306.74 L104.16 304.83 L104.20 302.93 L104.24 301.05 L104.28 299.19 L104.32 297.35 L104.36 295.52 L104.39 293.71 L104.43 291.92 L104.47 290.14 L104.51 288.38 L104.55 286.63 L104.59 284.90 L104.63 283.19 L104.67 281.49 L104.71 279.81 L104.74 278.14 L104.78 276.49 L104.82 274.85 L104.86 273.23 L104.90 271.63 L104.94 270.03 L104.98 268.46 L105.02 266.89 L105.06 265.35 L105.09 263.81 L105.13 262.29 L105.17 260.78 L105.21 259.29 L105.25 257.81 L105.29 256.35 L105.33 254.90 L105.37 253.46 L105.41 252.03 L105.44 250.62 L105.48 249.22 L105.52 247.83 L105.56 246.46 L105.60 245.10 L105.64 243.75 L105.68 242.41 L105.72 241.09 L105.76 239.78 L105.79 238.48 L105.83 237.19 L105.87 235.91 L105.91 234.65 L105.95 233.39 L105.99 232.15 L106.03 230.92 L106.07 229.70 L106.11 228.49 L106.14 227.30 L106.18 226.11 L106.22 224.94 L106.26 223.77 L106.30 222.62 L106.34 221.47 L106.38 220.34 L106.42 219.22 L106.46 218.11 L106.49 217.01 L106.53 215.91 L106.57 214.83 L106.61 213.76 L106.65 212.70 L106.69 211.65 L106.73 210.60 L106.77 209.57 L106.81 208.55 L106.84 207.53 L106.88 206.53 L106.92 205.53 L106.96 204.55 L107.00 203.57 L107.04 202.60 L107.08 201.64 L107.12 200.69 L107.16 199.75 L107.19 198.81 L107.23 197.89 L107.27 196.97 L107.31 196.06 L107.35 195.16 L107.39 194.27 L107.43 193.39 L107.47 192.51 L107.51 191.65 L107.54 190.79 L107.58 189.93 L107.62 189.09 L107.66 188.25 L107.70 187.43 L107.74 186.61 L107.78 185.79 L107.82 184.99 L107.86 184.19 L107.89 183.40 L107.93 182.61 L107.97 181.84 L108.01 181.07 L108.05 180.30 L108.09 179.55 L108.13 178.80 L108.17 178.06 L108.21 177.32 L108.24 176.59 L108.28 175.87 L108.32 175.16 L108.36 174.45 L108.40 173.75 L108.44 173.05 L108.48 172.36 L108.67 169.01 L108.87 165.81 L109.06 162.75 L109.26 159.83 L109.45 157.04 L109.64 154.38 L109.84 151.83 L110.03 149.41 L110.23 147.08 L110.42 144.87 L110.62 142.75 L110.81 140.73 L111.01 138.80 L111.20 136.96 L111.39 135.20 L111.59 133.52 L111.78 131.91 L111.98 130.38 L112.17 128.91 L112.37 127.51 L112.56 126.18 L112.75 124.90 L112.95 123.68 L113.14 122.52 L113.34 121.41 L113.53 120.35 L113.73 119.33 L113.92 118.36 L114.12 117.44 L114.31 116.56 L114.50 115.71 L114.70 114.91 L114.89 114.14 L115.09 113.40 L115.28 112.70 L115.48 112.03 L115.67 111.39 L115.87 110.78 L116.06 110.20 L116.25 109.64 L116.45 109.11 L116.64 108.60 L116.84 108.11 L117.03 107.65 L117.23 107.21 L117.42 106.78 L117.62 106.38 L117.81 105.99 L118.00 105.62 L118.20 105.27 L118.39 104.94 L118.59 104.62 L118.78 104.31 L118.98 104.02 L119.17 103.74 L119.37 103.47 L119.56 103.21 L119.75 102.97 L119.95 102.74 L120.14 102.52 L120.34 102.30 L120.53 102.10 L120.73 101.91 L120.92 101.72 L121.12 101.55 L121.31 101.38 L121.50 101.22 L121.70 101.06 L121.89 100.92 L122.09 100.78 L122.28 100.64 L122.48 100.51 L122.67 100.39 L122.87 100.28 L123.06 100.16 L123.25 100.06 L123.45 99.96 L123.64 99.86 L123.84 99.77 L124.03 99.68 L124.23 99.59 L124.42 99.51 L124.62 99.44 L124.81 99.36 L125.00 99.29 L125.20 99.22 L125.39 99.16 L125.59 99.10 L125.78 99.04 L125.98 98.98 L126.17 98.93 L126.37 98.88 L126.56 98.83 L126.75 98.78 L126.95 98.74 L127.14 98.70 L127.34 98.66 L127.53 98.62 L127.73 98.58 L127.92 98.55 L128.12 98.51 L128.31 98.48 L128.50 98.45 L128.70 98.42 L128.89 98.39 L129.09 98.37 L129.28 98.34 L129.48 98.32 L129.67 98.29 L129.87 98.27 L130.06 98.25 L130.25 98.23 L130.45 98.21 L130.64 98.19 L130.84 98.17 L131.03 98.16 L131.23 98.14 L131.42 98.12 L131.62 98.11 L131.81 98.10 L132.00 98.08 L132.20 98.07 L132.39 98.06 L132.59 98.05 L132.78 98.03 L132.98 98.02 L133.17 98.01 L133.37 98.00 L133.56 97.99 L133.75 97.99 L133.95 97.98 L134.14 97.97 L134.34 97.96 L134.53 97.95 L134.73 97.95 L134.92 97.94 L135.11 97.93 L135.31 97.93 L135.50 97.92 L135.70 97.92 L135.89 97.91 L136.09 97.91 L136.28 97.90 L136.48 97.90 L136.67 97.89 L136.86 97.89 L137.06 97.88 L137.25 97.88 L137.45 97.88 L137.64 97.87 L137.84 97.87 L138.03 97.87 L138.23 97.86 L138.42 97.86 L138.61 97.86 L138.81 97.85 L139.00 97.85 L139.20 97.85 L139.39 97.85 L139.59 97.84 L140.36 97.84 L141.14 97.83 L141.92 97.82 L142.70 97.82 L143.48 97.82 L144.25 97.81 L145.03 97.81 L145.81 97.81 L146.59 97.81 L147.36 97.80 L148.14 97.80 L148.92 97.80 L149.70 97.80 L150.48 97.80 L151.25 97.80 L152.03 97.80 L152.81 97.80 L153.59 97.80 L154.36 97.80 L155.14 97.80 L155.92 97.80 L156.70 97.80 L157.47 97.80 L158.25 97.80 L159.03 97.80 L159.81 97.80 L160.59 97.80 L161.36 97.80 L162.14 97.80 L162.92 97.80 L163.70 97.80 L164.47 97.80 L165.25 97.80 L166.03 97.80 L166.81 97.80 L167.59 97.80 L168.36 97.80 L169.14 97.80 L169.92 97.80 L170.70 97.80 L171.47 97.80 L172.25 97.80 L173.03 97.80 L173.81 97.80 L174.59 97.80 L175.36 97.80 L176.14 97.80 L176.92 97.80 L177.70 97.80 L178.47 97.80 L179.25 97.80 L180.03 97.80 L180.81 97.80 L181.58 97.80 L182.36 97.80 L183.14 97.80 L183.92 97.80 L184.70 97.80 L185.47 97.80 L186.25 97.80 L187.03 97.80 L187.81 97.80 L188.58 97.80 L189.36 97.80 L190.14 97.80 L190.92 97.80 L191.70 97.80 L192.47 97.80 L193.25 97.80 L194.03 97.80 L194.81 97.80 L195.58 97.80 L196.36 97.80 L197.14 97.80 L197.92 97.80 L198.69 97.80 L199.47 97.80 L200.25 97.80 L201.03 97.80 L201.81 97.80 L202.58 97.80 L203.36 97.80 L204.14 97.80 L204.92 97.80 L205.69 97.80 L206.47 97.80 L207.25 97.80 L208.03 97.80 L208.81 97.80 L209.58 97.80 L210.36 97.80 L211.14 97.80 L211.92 97.80 L212.69 97.80 L213.47 97.80 L214.25 97.80 L215.03 97.80 L215.81 97.80 L216.58 97.80 L217.36 97.80 L218.14 97.80 L218.92 97.80 L219.69 97.80 L220.47 97.80 L221.25 97.80 L222.03 97.80 L222.80 97.80 L223.58 97.80 L224.36 97.80 L225.14 97.80 L225.92 97.80 L226.69 97.80 L227.47 97.80 L228.25 97.80 L229.03 97.80 L229.80 97.80 L230.58 97.80 L231.36 97.80 L232.14 97.80 L232.92 97.80 L233.69 97.80 L234.47 97.80 L235.25 97.80 L236.03 97.80 L236.80 97.80 L237.58 97.80 L238.36 97.80 L239.14 97.80 L239.92 97.80 L240.69 97.80 L241.47 97.80 L242.25 97.80 L243.03 97.80 L243.80 97.80 L244.58 97.80 L245.36 97.80 L246.14 97.80 L246.91 97.80 L247.69 97.80 L248.47 97.80 L249.25 97.80 L250.03 97.80 L250.80 97.80 L251.58 97.80 L252.36 97.80 L253.14 97.80 L253.91 97.80 L254.69 97.80 L255.47 97.80 L256.25 97.80 L257.03 97.80 L257.80 97.80 L258.58 97.80 L259.36 97.80 L260.14 97.80 L260.91 97.80 L261.69 97.80 L262.47 97.80 L263.25 97.80 L264.02 97.80 L264.80 97.80 L265.58 97.80 L266.36 97.80 L267.14 97.80 L267.91 97.80 L268.69 97.80 L269.47 97.80 L270.25 97.80 L271.02 97.80 L271.80 97.80 L272.58 97.80 L273.36 97.80 L274.14 97.80 L274.91 97.80 L275.69 97.80 L276.47 97.80 L277.25 97.80 L278.02 97.80 L278.80 97.80 L279.58 97.80 L280.36 97.80 L281.14 97.80 L281.91 97.80 L282.69 97.80 L283.47 97.80 L284.25 97.80 L285.02 97.80 L285.80 97.80 L286.58 97.80 L287.36 97.80 L288.13 97.80 L288.91 97.80 L289.69 97.80 L290.47 97.80 L291.25 97.80 L292.02 97.80 L292.80 97.80 L293.58 97.80 L294.36 97.80 L295.13 97.80 L295.91 97.80 L296.69 97.80 L297.47 97.80 L298.25 97.80 L299.02 97.80 L299.80 97.80 L300.58 97.80 L301.36 97.80 L302.13 97.80 L302.91 97.80 L303.69 97.80 L304.47 97.80 L305.25 97.80 L306.02 97.80 L306.80 97.80 L307.58 97.80 L308.36 97.80 L309.13 97.80 L309.91 97.80 L310.69 97.80 L311.47 97.80 L312.24 97.80 L313.02 97.80 L313.80 97.80 L314.58 97.80 L315.36 97.80 L316.13 97.80 L316.91 97.80 L317.69 97.80 L318.47 97.80 L319.24 97.80 L320.02 97.80 L320.80 97.80 L321.58 97.80 L322.36 97.80 L323.13 97.80 L323.91 97.80 L324.69 97.80 L325.47 97.80 L326.24 97.80 L327.02 97.80 L327.80 97.80 L328.58 97.80 L329.36 97.80 L330.13 97.80 L330.91 97.80 L331.69 97.80 L332.47 97.80 L333.24 97.80 L334.02 97.80 L334.80 97.80 L335.58 97.80 L336.35 97.80 L337.13 97.80 L337.91 97.80 L338.69 97.80 L339.47 97.80 L340.24 97.80 L341.02 97.80 L341.80 97.80 L342.58 97.80 L343.35 97.80 L344.13 97.80 L344.91 97.80 L345.69 97.80 L346.47 97.80 L347.24 97.80 L348.02 97.80 L348.80 97.80 L349.58 97.80 L350.35 97.80 L351.13 97.80 L351.91 97.80 L352.69 97.80 L353.46 97.80 L354.24 97.80 L355.02 97.80 L355.80 97.80 L356.58 97.80 L357.35 97.80 L358.13 97.80 L358.91 97.80 L359.69 97.80 L360.46 97.80 L361.24 97.80 L362.02 97.80 L362.80 97.80 L363.58 97.80 L364.35 97.80 L365.13 97.80 L365.91 97.80 L366.69 97.80 L367.46 97.80 L368.24 97.80 L369.02 97.80 L369.80 97.80 L370.58 97.80 L371.35 97.80 L372.13 97.80 L372.91 97.80 L373.69 97.80 L374.46 97.80 L375.24 97.80 L376.02 97.80 L376.80 97.80 L377.57 97.80 L378.35 97.80 L379.13 97.80 L379.91 97.80 L380.69 97.80 L381.46 97.80 L382.24 97.80 L383.02 97.80 L383.80 97.80 L384.57 97.80 L385.35 97.80 L386.13 97.80 L386.91 97.80 L387.69 97.80 L388.46 97.80 L389.24 97.80 L390.02 97.80 L390.80 97.80 L391.57 97.80 L392.35 97.80 L393.13 97.80 L393.91 97.80 L394.69 97.80 L395.46 97.80 L396.24 97.80 L397.02 97.80 L397.80 97.80 L398.57 97.80 L399.35 97.80 L400.13 97.80 L400.91 97.80 L401.68 97.80 L402.46 97.80 L403.24 97.80 L404.02 97.80 L404.80 97.80 L405.57 97.80 L406.35 97.80 L407.13 97.80 L407.91 97.80 L408.68 97.80 L409.46 97.80 L410.24 97.80 L411.02 97.80 L411.80 97.80 L412.57 97.80 L413.35 97.80 L414.13 97.80 L414.91 97.80 L415.68 97.80 L416.46 97.80 L417.24 97.80 L418.02 97.80 L418.79 97.80 L419.57 97.80 L420.35 97.80 L421.13 97.80 L421.91 97.80 L422.68 97.80 L423.46 97.80 L424.24 97.80 L425.02 97.80 L425.79 97.80 L426.57 97.80 L427.35 97.80 L428.13 97.80 L428.91 97.80 L429.68 97.80 L430.46 97.80 L431.24 97.80 L432.02 97.80 L432.79 97.80 L433.57 97.80 L434.35 97.80 L435.13 97.80 L435.91 97.80 L436.68 97.80 L437.46 97.80 L438.24 97.80 L439.02 97.80 L439.79 97.80 L440.57 97.80 L441.35 97.80 L442.13 97.80 L442.90 97.80 L443.68 97.80 L444.46 97.80 L445.24 97.80 L446.02 97.80 L446.79 97.80 L447.57 97.80 L448.35 97.80 L449.13 97.80 L449.90 97.80 L450.68 97.80 L451.46 97.80 L452.24 97.80 L453.02 97.80 L453.79 97.80 L454.57 97.80 L455.35 97.80 L456.13 97.80 L456.90 97.80 L457.68 97.80 L458.46 97.80 L459.24 97.80 L460.01 97.80 L460.79 97.80 L461.57 97.80 L462.35 97.80 L463.13 97.80 L463.90 97.80 L464.68 97.80 L465.46 97.80 L466.24 97.80 L467.01 97.80 L467.79 97.80 L468.57 97.80 L469.35 97.80 L470.13 97.80 L470.90 97.80 L471.68 97.80 L472.46 97.80 L473.24 97.80 L474.01 97.80 L474.79 97.80 L475.57 97.80 L476.35 97.80 L477.13 97.80 L477.90 97.80 L478.68 97.80 L479.46 97.80 L480.24 97.80 L481.01 97.80 L481.79 97.80 L482.57 97.80 L483.35 97.80 L484.12 97.80 L484.90 97.80 L485.68 97.80 L486.46 97.80 L487.24 97.80 L488.01 97.80 L488.79 97.80 L489.57 97.80 L490.35 97.80 L491.12 97.80 L491.90 97.80 L492.68 97.80 L493.46 97.80 L494.24 97.80 L495.01 97.80 L495.79 97.80 L496.57 97.80 L497.35 97.80 L498.12 97.80 L498.90 97.80 L499.68 97.80 L500.46 97.80 L501.24 97.80 L502.01 97.80 L502.79 97.80 L503.57 97.80 L504.35 97.80 L505.12 97.80 L505.90 97.80 L506.68 97.80 L507.46 97.80 L508.23 97.80 L509.01 97.80 L509.79 97.80 L510.57 97.80 L511.35 97.80 L512.12 97.80 L512.90 97.80 L513.68 97.80 L514.46 97.80 L515.23 97.80 L516.01 97.80 L516.79 97.80 L517.57 97.80 L518.35 97.80 L519.12 97.80 L519.90 97.80 L520.68 97.80 L521.46 97.80 L522.23 97.80 L523.01 97.80 L523.79 97.80 L524.57 97.80 L525.35 97.80 L526.12 97.80 L526.90 97.80 L527.68 97.80 L528.46 97.80 L529.23 97.80 L530.01 97.80 L530.79 97.80 L531.57 97.80 L532.34 97.80 L533.12 97.80 L533.90 97.80 L534.68 97.80 L535.46 97.80 L536.23 97.80 L537.01 97.80 L537.79 97.80 L538.57 97.80 L539.34 97.80 L540.12 97.80 L540.90 97.80 L541.68 97.80 L542.46 97.80 L543.23 97.80 L544.01 97.80 L544.79 97.80 L545.57 97.80 L546.34 97.80 L547.12 97.80 L547.90 97.80 L548.68 97.80 L549.45 97.80 L550.23 97.80 L551.01 97.80 L551.79 97.80 L552.57 97.80 L553.34 97.80 L554.12 97.80 L554.90 97.80 L555.68 97.80 L556.45 97.80 L557.23 97.80 L558.01 97.80 L558.79 97.80 L559.57 97.80 L560.34 97.80 L561.12 97.80 L561.90 97.80 L562.68 97.80 L563.45 97.80 L564.23 97.80 L565.01 97.80 L565.79 97.80 L566.57 97.80 L567.34 97.80 L568.12 97.80 L568.90 97.80 L569.68 97.80 L570.45 97.80 L571.23 97.80 L572.01 97.80 L572.79 97.80 L573.56 97.80 L574.34 97.80 L575.12 97.80 L575.90 97.80 L576.68 97.80 L577.45 97.80 L578.23 97.80 L579.01 97.80 L579.79 97.80 L580.56 97.80 L581.34 97.80 L582.12 97.80 L582.90 97.80 L583.68 97.80 L584.45 97.80 L585.23 97.80 L586.01 97.80 L586.79 97.80 L587.56 97.80 L588.34 97.80 L589.12 97.80 L589.90 97.80 L590.67 97.80 L591.45 97.80 L592.23 97.80 L593.01 97.80 L593.79 97.80 L594.56 97.80 L595.34 97.80 L596.12 97.80 L596.90 97.80 L597.67 97.80 L598.45 97.80 L599.23 97.80 L600.01 97.80 L600.79 97.80 L601.56 97.80 L602.34 97.80 L603.12 97.80 L603.90 97.80 L604.67 97.80 L605.45 97.80 L606.23 97.80 L607.01 97.80 L607.79 97.80 L608.56 97.80 L609.34 97.80 L610.12 97.80 L610.90 97.80 L611.67 97.80 L612.45 97.80 L613.23 97.80 L614.01 97.80 L614.78 97.80 L615.56 97.80 L616.34 97.80 L617.12 97.80 L617.90 97.80 L618.67 97.80 L619.45 97.80 L620.23 97.80 L621.01 97.80 L621.78 97.80 L622.56 97.80 L623.34 97.80 L624.12 97.80 L624.90 97.80 L625.67 97.80 L626.45 97.80 L627.23 97.80 L628.01 97.80 L628.78 97.80 L629.56 97.80 L630.34 97.80 L631.12 97.80 L631.90 97.80 L632.67 97.80 L633.45 97.80 L634.23 97.80 L635.01 97.80 L635.78 97.80 L636.56 97.80 L637.34 97.80 L638.12 97.80 L638.89 97.80 L639.67 97.80 L640.45 97.80 L641.23 97.80 L642.01 97.80 L642.78 97.80 L643.56 97.80 L644.34 97.80 L645.12 97.80 L645.89 97.80 L646.67 97.80 L647.45 97.80 L648.23 97.80 L649.01 97.80 L649.78 97.80 L650.56 97.80 L651.34 97.80 L652.12 97.80 L652.89 97.80 L653.67 97.80 L654.45 97.80 L655.23 97.80 L656.00 97.80 L656.78 97.80 L657.56 97.80 L658.34 97.80 L659.12 97.80 L659.89 97.80 L660.67 97.80" fill="none" stroke="#00ff00" stroke-width="2.4"/>
<path d="M100.70 567.30 L100.74 559.43 L100.78 551.81 L100.82 544.42 L100.86 537.26 L100.89 530.32 L100.93 523.58 L100.97 517.03 L101.01 510.68 L101.05 504.51 L101.09 498.50 L101.13 492.67 L101.17 486.99 L101.21 481.47 L101.24 476.09 L101.28 470.85 L101.32 465.75 L101.36 460.78 L101.40 455.93 L101.44 451.20 L101.48 446.59 L101.52 442.09 L101.56 437.70 L101.59 433.41 L101.63 429.22 L101.67 425.13 L101.71 421.14 L101.75 417.23 L101.79 413.41 L101.83 409.68 L101.87 406.02 L101.91 402.45 L101.94 398.95 L101.98 395.53 L102.02 392.17 L102.06 388.89 L102.10 385.68 L102.14 382.53 L102.18 379.44 L102.22 376.41 L102.26 373.45 L102.29 370.54 L102.33 367.69 L102.37 364.89 L102.41 362.15 L102.45 359.46 L102.49 356.81 L102.53 354.22 L102.57 351.67 L102.61 349.17 L102.64 346.72 L102.68 344.31 L102.72 341.94 L102.76 339.61 L102.80 337.32 L102.84 335.07 L102.88 332.86 L102.92 330.69 L102.96 328.55 L102.99 326.45 L103.03 324.39 L103.07 322.35 L103.11 320.35 L103.15 318.39 L103.19 316.45 L103.23 314.55 L103.27 312.67 L103.31 310.82 L103.34 309.01 L103.38 307.22 L103.42 305.45 L103.46 303.72 L103.50 302.01 L103.54 300.32 L103.58 298.66 L103.62 297.03 L103.66 295.41 L103.69 293.82 L103.73 292.26 L103.77 290.72 L103.81 289.19 L103.85 287.69 L103.89 286.21 L103.93 284.76 L103.97 283.32 L104.01 281.90 L104.04 280.50 L104.08 279.12 L104.12 277.75 L104.16 276.41 L104.20 275.08 L104.24 273.77 L104.28 272.48 L104.32 271.20 L104.36 269.95 L104.39 268.70 L104.43 267.47 L104.47 266.26 L104.51 265.07 L104.55 263.88 L104.59 262.72 L104.63 261.56 L104.67 260.43 L104.71 259.30 L104.74 258.19 L104.78 257.09 L104.82 256.01 L104.86 254.94 L104.90 253.88 L104.94 252.83 L104.98 251.79 L105.02 250.77 L105.06 249.76 L105.09 248.76 L105.13 247.77 L105.17 246.80 L105.21 245.83 L105.25 244.88 L105.29 243.93 L105.33 243.00 L105.37 242.08 L105.41 241.16 L105.44 240.26 L105.48 239.37 L105.52 238.48 L105.56 237.61 L105.60 236.74 L105.64 235.89 L105.68 235.04 L105.72 234.20 L105.76 233.37 L105.79 232.55 L105.83 231.74 L105.87 230.94 L105.91 230.14 L105.95 229.35 L105.99 228.57 L106.03 227.80 L106.07 227.04 L106.11 226.28 L106.14 225.53 L106.18 224.79 L106.22 224.06 L106.26 223.33 L106.30 222.61 L106.34 221.90 L106.38 221.19 L106.42 220.49 L106.46 219.80 L106.49 219.11 L106.53 218.43 L106.57 217.76 L106.61 217.09 L106.65 216.43 L106.69 215.78 L106.73 215.13 L106.77 214.49 L106.81 213.85 L106.84 213.22 L106.88 212.59 L106.92 211.98 L106.96 211.36 L107.00 210.75 L107.04 210.15 L107.08 209.55 L107.12 208.96 L107.16 208.37 L107.19 207.79 L107.23 207.21 L107.27 206.64 L107.31 206.08 L107.35 205.51 L107.39 204.96 L107.43 204.40 L107.47 203.86 L107.51 203.31 L107.54 202.77 L107.58 202.24 L107.62 201.71 L107.66 201.19 L107.70 200.66 L107.74 200.15 L107.78 199.64 L107.82 199.13 L107.86 198.62 L107.89 198.12 L107.93 197.63 L107.97 197.14 L108.01 196.65 L108.05 196.16 L108.09 195.68 L108.13 195.21 L108.17 194.73 L108.21 194.27 L108.24 193.80 L108.28 193.34 L108.32 192.88 L108.36 192.43 L108.40 191.97 L108.44 191.53 L108.48 191.08 L108.67 188.91 L108.87 186.82 L109.06 184.81 L109.26 182.86 L109.45 180.99 L109.64 179.18 L109.84 177.43 L110.03 175.73 L110.23 174.10 L110.42 172.51 L110.62 170.98 L110.81 169.49 L111.01 168.05 L111.20 166.65 L111.39 165.30 L111.59 163.98 L111.78 162.70 L111.98 161.46 L112.17 160.25 L112.37 159.08 L112.56 157.94 L112.75 156.83 L112.95 155.75 L113.14 154.69 L113.34 153.67 L113.53 152.67 L113.73 151.69 L113.92 150.74 L114.12 149.82 L114.31 148.91 L114.50 148.03 L114.70 147.17 L114.89 146.33 L115.09 145.50 L115.28 144.70 L115.48 143.92 L115.67 143.15 L115.87 142.40 L116.06 141.66 L116.25 140.95 L116.45 140.24 L116.64 139.56 L116.84 138.88 L117.03 138.22 L117.23 137.58 L117.42 136.95 L117.62 136.33 L117.81 135.72 L118.00 135.12 L118.20 134.54 L118.39 133.97 L118.59 133.40 L118.78 132.85 L118.98 132.31 L119.17 131.78 L119.37 131.26 L119.56 130.75 L119.75 130.25 L119.95 129.76 L120.14 129.27 L120.34 128.80 L120.53 128.33 L120.73 127.87 L120.92 127.42 L121.12 126.98 L121.31 126.54 L121.50 126.11 L121.70 125.69 L121.89 125.27 L122.09 124.87 L122.28 124.47 L122.48 124.07 L122.67 123.68 L122.87 123.30 L123.06 122.92 L123.25 122.55 L123.45 122.19 L123.64 121.83 L123.84 121.48 L124.03 121.13 L124.23 120.78 L124.42 120.45 L124.62 120.11 L124.81 119.78 L125.00 119.46 L125.20 119.14 L125.39 118.83 L125.59 118.52 L125.78 118.21 L125.98 117.91 L126.17 117.62 L126.37 117.32 L126.56 117.04 L126.75 116.75 L126.95 116.47 L127.14 116.19 L127.34 115.92 L127.53 115.65 L127.73 115.38 L127.92 115.12 L128.12 114.86 L128.31 114.61 L128.50 114.35 L128.70 114.10 L128.89 113.86 L129.09 113.62 L129.28 113.38 L129.48 113.14 L129.67 112.90 L129.87 112.67 L130.06 112.45 L130.25 112.22 L130.45 112.00 L130.64 111.78 L130.84 111.56 L131.03 111.34 L131.23 111.13 L131.42 110.92 L131.62 110.71 L131.81 110.51 L132.00 110.31 L132.20 110.11 L132.39 109.91 L132.59 109.71 L132.78 109.52 L132.98 109.33 L133.17 109.14 L133.37 108.95 L133.56 108.77 L133.75 108.58 L133.95 108.40 L134.14 108.22 L134.34 108.05 L134.53 107.87 L134.73 107.70 L134.92 107.53 L135.11 107.36 L135.31 107.19 L135.50 107.02 L135.70 106.86 L135.89 106.69 L136.09 106.53 L136.28 106.37 L136.48 106.22 L136.67 106.06 L136.86 105.91 L137.06 105.75 L137.25 105.60 L137.45 105.45 L137.64 105.30 L137.84 105.15 L138.03 105.01 L138.23 104.86 L138.42 104.72 L138.61 104.58 L138.81 104.44 L139.00 104.30 L139.20 104.16 L139.39 104.03 L139.59 103.89 L140.36 103.37 L141.14 102.86 L141.92 102.37 L142.70 101.90 L143.48 101.44 L144.25 101.00 L145.03 100.57 L145.81 100.16 L146.59 99.76 L147.36 99.37 L148.14 99.00 L148.92 98.64 L149.70 98.29 L150.48 97.94 L151.25 97.61 L152.03 97.29 L152.81 96.98 L153.59 96.68 L154.36 96.38 L155.14 96.09 L155.92 95.81 L156.70 95.54 L157.47 95.28 L158.25 95.02 L159.03 94.77 L159.81 94.52 L160.59 94.28 L161.36 94.05 L162.14 93.82 L162.92 93.60 L163.70 93.38 L164.47 93.17 L165.25 92.97 L166.03 92.76 L166.81 92.57 L167.59 92.37 L168.36 92.19 L169.14 92.00 L169.92 91.82 L170.70 91.64 L171.47 91.47 L172.25 91.30 L173.03 91.14 L173.81 90.98 L174.59 90.82 L175.36 90.66 L176.14 90.51 L176.92 90.36 L177.70 90.21 L178.47 90.07 L179.25 89.93 L180.03 89.79 L180.81 89.65 L181.58 89.52 L182.36 89.39 L183.14 89.26 L183.92 89.13 L184.70 89.01 L185.47 88.89 L186.25 88.77 L187.03 88.65 L187.81 88.54 L188.58 88.42 L189.36 88.31 L190.14 88.20 L190.92 88.10 L191.70 87.99 L192.47 87.89 L193.25 87.78 L194.03 87.68 L194.81 87.58 L195.58 87.49 L196.36 87.39 L197.14 87.30 L197.92 87.20 L198.69 87.11 L199.47 87.02 L200.25 86.93 L201.03 86.85 L201.81 86.76 L202.58 86.67 L203.36 86.59 L204.14 86.51 L204.92 86.43 L205.69 86.35 L206.47 86.27 L207.25 86.19 L208.03 86.12 L208.81 86.04 L209.58 85.97 L210.36 85.89 L211.14 85.82 L211.92 85.75 L212.69 85.68 L213.47 85.61 L214.25 85.54 L215.03 85.47 L215.81 85.41 L216.58 85.34 L217.36 85.27 L218.14 85.21 L218.92 85.15 L219.69 85.08 L220.47 85.02 L221.25 84.96 L222.03 84.90 L222.80 84.84 L223.58 84.78 L224.36 84.73 L225.14 84.67 L225.92 84.61 L226.69 84.56 L227.47 84.50 L228.25 84.45 L229.03 84.39 L229.80 84.34 L230.58 84.29 L231.36 84.23 L232.14 84.18 L232.92 84.13 L233.69 84.08 L234.47 84.03 L235.25 83.98 L236.03 83.94 L236.80 83.89 L237.58 83.84 L238.36 83.79 L239.14 83.75 L239.92 83.70 L240.69 83.66 L241.47 83.61 L242.25 83.57 L243.03 83.52 L243.80 83.48 L244.58 83.44 L245.36 83.39 L246.14 83.35 L246.91 83.31 L247.69 83.27 L248.47 83.23 L249.25 83.19 L250.03 83.15 L250.80 83.11 L251.58 83.07 L252.36 83.03 L253.14 82.99 L253.91 82.95 L254.69 82.92 L255.47 82.88 L256.25 82.84 L257.03 82.80 L257.80 82.77 L258.58 82.73 L259.36 82.70 L260.14 82.66 L260.91 82.63 L261.69 82.59 L262.47 82.56 L263.25 82.53 L264.02 82.49 L264.80 82.46 L265.58 82.43 L266.36 82.39 L267.14 82.36 L267.91 82.33 L268.69 82.30 L269.47 82.27 L270.25 82.23 L271.02 82.20 L271.80 82.17 L272.58 82.14 L273.36 82.11 L274.14 82.08 L274.91 82.05 L275.69 82.02 L276.47 82.00 L277.25 81.97 L278.02 81.94 L278.80 81.91 L279.58 81.88 L280.36 81.85 L281.14 81.83 L281.91 81.80 L282.69 81.77 L283.47 81.75 L284.25 81.72 L285.02 81.69 L285.80 81.67 L286.58 81.64 L287.36 81.62 L288.13 81.59 L288.91 81.56 L289.69 81.54 L290.47 81.51 L291.25 81.49 L292.02 81.47 L292.80 81.44 L293.58 81.42 L294.36 81.39 L295.13 81.37 L295.91 81.35 L296.69 81.32 L297.47 81.30 L298.25 81.28 L299.02 81.25 L299.80 81.23 L300.58 81.21 L301.36 81.19 L302.13 81.16 L302.91 81.14 L303.69 81.12 L304.47 81.10 L305.25 81.08 L306.02 81.06 L306.80 81.04 L307.58 81.01 L308.36 80.99 L309.13 80.97 L309.91 80.95 L310.69 80.93 L311.47 80.91 L312.24 80.89 L313.02 80.87 L313.80 80.85 L314.58 80.83 L315.36 80.81 L316.13 80.79 L316.91 80.77 L317.69 80.76 L318.47 80.74 L319.24 80.72 L320.02 80.70 L320.80 80.68 L321.58 80.66 L322.36 80.64 L323.13 80.63 L323.91 80.61 L324.69 80.59 L325.47 80.57 L326.24 80.55 L327.02 80.54 L327.80 80.52 L328.58 80.50 L329.36 80.48 L330.13 80.47 L330.91 80.45 L331.69 80.43 L332.47 80.42 L333.24 80.40 L334.02 80.38 L334.80 80.37 L335.58 80.35 L336.35 80.33 L337.13 80.32 L337.91 80.30 L338.69 80.29 L339.47 80.27 L340.24 80.26 L341.02 80.24 L341.80 80.22 L342.58 80.21 L343.35 80.19 L344.13 80.18 L344.91 80.16 L345.69 80.15 L346.47 80.13 L347.24 80.12 L348.02 80.10 L348.80 80.09 L349.58 80.07 L350.35 80.06 L351.13 80.05 L351.91 80.03 L352.69 80.02 L353.46 80.00 L354.24 79.99 L355.02 79.98 L355.80 79.96 L356.58 79.95 L357.35 79.93 L358.13 79.92 L358.91 79.91 L359.69 79.89 L360.46 79.88 L361.24 79.87 L362.02 79.85 L362.80 79.84 L363.58 79.83 L364.35 79.81 L365.13 79.80 L365.91 79.79 L366.69 79.78 L367.46 79.76 L368.24 79.75 L369.02 79.74 L369.80 79.73 L370.58 79.71 L371.35 79.70 L372.13 79.69 L372.91 79.68 L373.69 79.66 L374.46 79.65 L375.24 79.64 L376.02 79.63 L376.80 79.62 L377.57 79.61 L378.35 79.59 L379.13 79.58 L379.91 79.57 L380.69 79.56 L381.46 79.55 L382.24 79.54 L383.02 79.52 L383.80 79.51 L384.57 79.50 L385.35 79.49 L386.13 79.48 L386.91 79.47 L387.69 79.46 L388.46 79.45 L389.24 79.44 L390.02 79.43 L390.80 79.41 L391.57 79.40 L392.35 79.39 L393.13 79.38 L393.91 79.37 L394.69 79.36 L395.46 79.35 L396.24 79.34 L397.02 79.33 L397.80 79.32 L398.57 79.31 L399.35 79.30 L400.13 79.29 L400.91 79.28 L401.68 79.27 L402.46 79.26 L403.24 79.25 L404.02 79.24 L404.80 79.23 L405.57 79.22 L406.35 79.21 L407.13 79.20 L407.91 79.19 L408.68 79.18 L409.46 79.17 L410.24 79.16 L411.02 79.15 L411.80 79.15 L412.57 79.14 L413.35 79.13 L414.13 79.12 L414.91 79.11 L415.68 79.10 L416.46 79.09 L417.24 79.08 L418.02 79.07 L418.79 79.06 L419.57 79.05 L420.35 79.05 L421.13 79.04 L421.91 79.03 L422.68 79.02 L423.46 79.01 L424.24 79.00 L425.02 78.99 L425.79 78.99 L426.57 78.98 L427.35 78.97 L428.13 78.96 L428.91 78.95 L429.68 78.94 L430.46 78.93 L431.24 78.93 L432.02 78.92 L432.79 78.91 L433.57 78.90 L434.35 78.89 L435.13 78.89 L435.91 78.88 L436.68 78.87 L437.46 78.86 L438.24 78.85 L439.02 78.85 L439.79 78.84 L440.57 78.83 L441.35 78.82 L442.13 78.81 L442.90 78.81 L443.68 78.80 L444.46 78.79 L445.24 78.78 L446.02 78.78 L446.79 78.77 L447.57 78.76 L448.35 78.75 L449.13 78.75 L449.90 78.74 L450.68 78.73 L451.46 78.72 L452.24 78.72 L453.02 78.71 L453.79 78.70 L454.57 78.69 L455.35 78.69 L456.13 78.68 L456.90 78.67 L457.68 78.67 L458.46 78.66 L459.24 78.65 L460.01 78.65 L460.79 78.64 L461.57 78.63 L462.35 78.62 L463.13 78.62 L463.90 78.61 L464.68 78.60 L465.46 78.60 L466.24 78.59 L467.01 78.58 L467.79 78.58 L468.57 78.57 L469.35 78.56 L470.13 78.56 L470.90 78.55 L471.68 78.54 L472.46 78.54 L473.24 78.53 L474.01 78.52 L474.79 78.52 L475.57 78.51 L476.35 78.50 L477.13 78.50 L477.90 78.49 L478.68 78.49 L479.46 78.48 L480.24 78.47 L481.01 78.47 L481.79 78.46 L482.57 78.45 L483.35 78.45 L484.12 78.44 L484.90 78.44 L485.68 78.43 L486.46 78.42 L487.24 78.42 L488.01 78.41 L488.79 78.41 L489.57 78.40 L490.35 78.39 L491.12 78.39 L491.90 78.38 L492.68 78.38 L493.46 78.37 L494.24 78.36" fill="none" stroke="#00ff00" stroke-width="1.8" stroke-dasharray="6.90 5.78" stroke-dashoffset="1.85"/>
<path d="M494.24 78.36 L495.01 78.36 L495.79 78.35 L496.57 78.35 L497.35 78.34 L498.12 78.34 L498.90 78.33 L499.68 78.32 L500.46 78.32 L501.24 78.31 L502.01 78.31 L502.79 78.30 L503.57 78.30 L504.35 78.29 L505.12 78.28 L505.90 78.28 L506.68 78.27 L507.46 78.27 L508.23 78.26 L509.01 78.26 L509.79 78.25 L510.57 78.25 L511.35 78.24 L512.12 78.24 L512.90 78.23 L513.68 78.22 L514.46 78.22 L515.23 78.21 L516.01 78.21 L516.79 78.20 L517.57 78.20 L518.35 78.19 L519.12 78.19 L519.90 78.18 L520.68 78.18 L521.46 78.17 L522.23 78.17 L523.01 78.16 L523.79 78.16 L524.57 78.15 L525.35 78.15 L526.12 78.14 L526.90 78.14 L527.68 78.13 L528.46 78.13 L529.23 78.12 L530.01 78.12 L530.79 78.11 L531.57 78.11 L532.34 78.10 L533.12 78.10 L533.90 78.09 L534.68 78.09 L535.46 78.08 L536.23 78.08 L537.01 78.07 L537.79 78.07 L538.57 78.06 L539.34 78.06 L540.12 78.06 L540.90 78.05 L541.68 78.05 L542.46 78.04 L543.23 78.04 L544.01 78.03 L544.79 78.03 L545.57 78.02 L546.34 78.02 L547.12 78.01 L547.90 78.01 L548.68 78.00 L549.45 78.00 L550.23 78.00 L551.01 77.99 L551.79 77.99 L552.57 77.98 L553.34 77.98 L554.12 77.97 L554.90 77.97 L555.68 77.96 L556.45 77.96 L557.23 77.96 L558.01 77.95 L558.79 77.95 L559.57 77.94 L560.34 77.94 L561.12 77.93 L561.90 77.93 L562.68 77.93 L563.45 77.92 L564.23 77.92 L565.01 77.91 L565.79 77.91 L566.57 77.91 L567.34 77.90 L568.12 77.90 L568.90 77.89 L569.68 77.89 L570.45 77.88 L571.23 77.88 L572.01 77.88 L572.79 77.87 L573.56 77.87 L574.34 77.86 L575.12 77.86 L575.90 77.86 L576.68 77.85 L577.45 77.85 L578.23 77.84 L579.01 77.84 L579.79 77.84 L580.56 77.83 L581.34 77.83 L582.12 77.82 L582.90 77.82 L583.68 77.82 L584.45 77.81 L585.23 77.81 L586.01 77.80 L586.79 77.80 L587.56 77.80 L588.34 77.79 L589.12 77.79 L589.90 77.79 L590.67 77.78 L591.45 77.78 L592.23 77.77 L593.01 77.77 L593.79 77.77 L594.56 77.76 L595.34 77.76 L596.12 77.76 L596.90 77.75 L597.67 77.75 L598.45 77.74 L599.23 77.74 L600.01 77.74 L600.79 77.73 L601.56 77.73 L602.34 77.73 L603.12 77.72 L603.90 77.72 L604.67 77.72 L605.45 77.71 L606.23 77.71 L607.01 77.71 L607.79 77.70 L608.56 77.70 L609.34 77.69 L610.12 77.69 L610.90 77.69 L611.67 77.68 L612.45 77.68 L613.23 77.68 L614.01 77.67 L614.78 77.67 L615.56 77.67 L616.34 77.66 L617.12 77.66 L617.90 77.66 L618.67 77.65 L619.45 77.65 L620.23 77.65 L621.01 77.64 L621.78 77.64 L622.56 77.64 L623.34 77.63 L624.12 77.63 L624.90 77.63 L625.67 77.62 L626.45 77.62 L627.23 77.62 L628.01 77.61 L628.78 77.61 L629.56 77.61 L630.34 77.60 L631.12 77.60 L631.90 77.60 L632.67 77.59 L633.45 77.59 L634.23 77.59 L635.01 77.58 L635.78 77.58 L636.56 77.58 L637.34 77.58 L638.12 77.57 L638.89 77.57 L639.67 77.57 L640.45 77.56 L641.23 77.56 L642.01 77.56 L642.78 77.55 L643.56 77.55 L644.34 77.55 L645.12 77.54 L645.89 77.54 L646.67 77.54 L647.45 77.54 L648.23 77.53 L649.01 77.53 L649.78 77.53 L650.56 77.52 L651.34 77.52 L652.12 77.52 L652.89 77.51 L653.67 77.51 L654.45 77.51 L655.23 77.51 L656.00 77.50 L656.78 77.50 L657.56 77.50 L658.34 77.49 L659.12 77.49 L659.89 77.49 L660.67 77.48" fill="none" stroke="#00ff00" stroke-width="1.8" stroke-dasharray="6.90 5.78" stroke-dashoffset="6.27"/>
<path d="M100.70 567.30 L100.74 563.46 L100.78 559.66 L100.82 555.89 L100.86 552.15 L100.89 548.44 L100.93 544.77 L100.97 541.13 L101.01 537.52 L101.05 533.94 L101.09 530.39 L101.13 526.87 L101.17 523.38 L101.21 519.93 L101.24 516.50 L101.28 513.10 L101.32 509.74 L101.36 506.40 L101.40 503.09 L101.44 499.81 L101.48 496.55 L101.52 493.33 L101.56 490.13 L101.59 486.96 L101.63 483.82 L101.67 480.71 L101.71 477.62 L101.75 474.56 L101.79 471.53 L101.83 468.52 L101.87 465.54 L101.91 462.58 L101.94 459.65 L101.98 456.75 L102.02 453.87 L102.06 451.01 L102.10 448.18 L102.14 445.38 L102.18 442.60 L102.22 439.84 L102.26 437.11 L102.29 434.40 L102.33 431.71 L102.37 429.05 L102.41 426.41 L102.45 423.79 L102.49 421.20 L102.53 418.63 L102.57 416.08 L102.61 413.55 L102.64 411.04 L102.68 408.56 L102.72 406.10 L102.76 403.66 L102.80 401.24 L102.84 398.84 L102.88 396.46 L102.92 394.10 L102.96 391.77 L102.99 389.45 L103.03 387.15 L103.07 384.88 L103.11 382.62 L103.15 380.38 L103.19 378.16 L103.23 375.97 L103.27 373.79 L103.31 371.62 L103.34 369.48 L103.38 367.36 L103.42 365.25 L103.46 363.17 L103.50 361.10 L103.54 359.05 L103.58 357.01 L103.62 355.00 L103.66 353.00 L103.69 351.02 L103.73 349.05 L103.77 347.11 L103.81 345.18 L103.85 343.26 L103.89 341.37 L103.93 339.49 L103.97 337.62 L104.01 335.78 L104.04 333.94 L104.08 332.13 L104.12 330.33 L104.16 328.54 L104.20 326.78 L104.24 325.02 L104.28 323.28 L104.32 321.56 L104.36 319.85 L104.39 318.16 L104.43 316.48 L104.47 314.81 L104.51 313.16 L104.55 311.53 L104.59 309.91 L104.63 308.30 L104.67 306.70 L104.71 305.12 L104.74 303.56 L104.78 302.01 L104.82 300.47 L104.86 298.94 L104.90 297.43 L104.94 295.93 L104.98 294.44 L105.02 292.97 L105.06 291.51 L105.09 290.06 L105.13 288.62 L105.17 287.20 L105.21 285.79 L105.25 284.39 L105.29 283.00 L105.33 281.63 L105.37 280.27 L105.41 278.92 L105.44 277.58 L105.48 276.25 L105.52 274.93 L105.56 273.63 L105.60 272.34 L105.64 271.05 L105.68 269.78 L105.72 268.52 L105.76 267.27 L105.79 266.03 L105.83 264.81 L105.87 263.59 L105.91 262.38 L105.95 261.19 L105.99 260.00 L106.03 258.83 L106.07 257.66 L106.11 256.51 L106.14 255.36 L106.18 254.23 L106.22 253.10 L106.26 251.99 L106.30 250.88 L106.34 249.78 L106.38 248.70 L106.42 247.62 L106.46 246.55 L106.49 245.49 L106.53 244.44 L106.57 243.40 L106.61 242.37 L106.65 241.35 L106.69 240.33 L106.73 239.33 L106.77 238.33 L106.81 237.35 L106.84 236.37 L106.88 235.40 L106.92 234.43 L106.96 233.48 L107.00 232.53 L107.04 231.60 L107.08 230.67 L107.12 229.75 L107.16 228.83 L107.19 227.93 L107.23 227.03 L107.27 226.14 L107.31 225.26 L107.35 224.38 L107.39 223.52 L107.43 222.66 L107.47 221.81 L107.51 220.96 L107.54 220.12 L107.58 219.29 L107.62 218.47 L107.66 217.66 L107.70 216.85 L107.74 216.05 L107.78 215.25 L107.82 214.46 L107.86 213.68 L107.89 212.91 L107.93 212.14 L107.97 211.38 L108.01 210.63 L108.05 209.88 L108.09 209.14 L108.13 208.40 L108.17 207.67 L108.21 206.95 L108.24 206.24 L108.28 205.53 L108.32 204.82 L108.36 204.13 L108.40 203.43 L108.44 202.75 L108.48 202.07 L108.67 198.76 L108.87 195.59 L109.06 192.56 L109.26 189.65 L109.45 186.87 L109.64 184.21 L109.84 181.66 L110.03 179.22 L110.23 176.88 L110.42 174.64 L110.62 172.50 L110.81 170.45 L111.01 168.49 L111.20 166.61 L111.39 164.81 L111.59 163.08 L111.78 161.43 L111.98 159.85 L112.17 158.34 L112.37 156.89 L112.56 155.51 L112.75 154.18 L112.95 152.91 L113.14 151.69 L113.34 150.52 L113.53 149.41 L113.73 148.34 L113.92 147.32 L114.12 146.34 L114.31 145.40 L114.50 144.50 L114.70 143.65 L114.89 142.82 L115.09 142.03 L115.28 141.28 L115.48 140.56 L115.67 139.87 L115.87 139.21 L116.06 138.57 L116.25 137.96 L116.45 137.38 L116.64 136.83 L116.84 136.30 L117.03 135.79 L117.23 135.30 L117.42 134.83 L117.62 134.38 L117.81 133.95 L118.00 133.54 L118.20 133.15 L118.39 132.78 L118.59 132.42 L118.78 132.07 L118.98 131.74 L119.17 131.42 L119.37 131.12 L119.56 130.83 L119.75 130.55 L119.95 130.29 L120.14 130.04 L120.34 129.79 L120.53 129.56 L120.73 129.34 L120.92 129.12 L121.12 128.92 L121.31 128.72 L121.50 128.53 L121.70 128.35 L121.89 128.18 L122.09 128.02 L122.28 127.86 L122.48 127.71 L122.67 127.57 L122.87 127.43 L123.06 127.30 L123.25 127.17 L123.45 127.05 L123.64 126.93 L123.84 126.82 L124.03 126.71 L124.23 126.61 L124.42 126.51 L124.62 126.42 L124.81 126.33 L125.00 126.24 L125.20 126.16 L125.39 126.08 L125.59 126.01 L125.78 125.94 L125.98 125.87 L126.17 125.80 L126.37 125.74 L126.56 125.68 L126.75 125.62 L126.95 125.57 L127.14 125.51 L127.34 125.46 L127.53 125.41 L127.73 125.37 L127.92 125.32 L128.12 125.28 L128.31 125.24 L128.50 125.20 L128.70 125.16 L128.89 125.13 L129.09 125.09 L129.28 125.06 L129.48 125.03 L129.67 125.00 L129.87 124.97 L130.06 124.94 L130.25 124.91 L130.45 124.89 L130.64 124.86 L130.84 124.84 L131.03 124.82 L131.23 124.80 L131.42 124.78 L131.62 124.76 L131.81 124.74 L132.00 124.72 L132.20 124.70 L132.39 124.69 L132.59 124.67 L132.78 124.66 L132.98 124.64 L133.17 124.63 L133.37 124.61 L133.56 124.60 L133.75 124.59 L133.95 124.58 L134.14 124.57 L134.34 124.56 L134.53 124.55 L134.73 124.54 L134.92 124.53 L135.11 124.52 L135.31 124.51 L135.50 124.50 L135.70 124.49 L135.89 124.49 L136.09 124.48 L136.28 124.47 L136.48 124.47 L136.67 124.46 L136.86 124.45 L137.06 124.45 L137.25 124.44 L137.45 124.44 L137.64 124.43 L137.84 124.43 L138.03 124.42 L138.23 124.42 L138.42 124.41 L138.61 124.41 L138.81 124.41 L139.00 124.40 L139.20 124.40 L139.39 124.39 L139.59 124.39 L140.36 124.38 L141.14 124.37 L141.92 124.36 L142.70 124.35 L143.48 124.35 L144.25 124.34 L145.03 124.34 L145.81 124.34 L146.59 124.33 L147.36 124.33 L148.14 124.33 L148.92 124.33 L149.70 124.33 L150.48 124.32 L151.25 124.32 L152.03 124.32 L152.81 124.32 L153.59 124.32 L154.36 124.32 L155.14 124.32 L155.92 124.32 L156.70 124.32 L157.47 124.32 L158.25 124.32 L159.03 124.32 L159.81 124.32 L160.59 124.32 L161.36 124.32 L162.14 124.32 L162.92 124.32 L163.70 124.32 L164.47 124.32 L165.25 124.32 L166.03 124.32 L166.81 124.32 L167.59 124.32 L168.36 124.32 L169.14 124.32 L169.92 124.32 L170.70 124.32 L171.47 124.32 L172.25 124.32 L173.03 124.32 L173.81 124.32 L174.59 124.32 L175.36 124.32 L176.14 124.32 L176.92 124.32 L177.70 124.32 L178.47 124.32 L179.25 124.32 L180.03 124.32 L180.81 124.32 L181.58 124.32 L182.36 124.32 L183.14 124.32 L183.92 124.32 L184.70 124.32 L185.47 124.32 L186.25 124.32 L187.03 124.32 L187.81 124.32 L188.58 124.32 L189.36 124.32 L190.14 124.32 L190.92 124.32 L191.70 124.32 L192.47 124.32 L193.25 124.32 L194.03 124.32 L194.81 124.32 L195.58 124.32 L196.36 124.32 L197.14 124.32 L197.92 124.32 L198.69 124.32 L199.47 124.32 L200.25 124.32 L201.03 124.32 L201.81 124.32 L202.58 124.32 L203.36 124.32 L204.14 124.32 L204.92 124.32 L205.69 124.32 L206.47 124.32 L207.25 124.32 L208.03 124.32 L208.81 124.32 L209.58 124.32 L210.36 124.32 L211.14 124.32 L211.92 124.32 L212.69 124.32 L213.47 124.32 L214.25 124.32 L215.03 124.32 L215.81 124.32 L216.58 124.32 L217.36 124.32 L218.14 124.32 L218.92 124.32 L219.69 124.32 L220.47 124.32 L221.25 124.32 L222.03 124.32 L222.80 124.32 L223.58 124.32 L224.36 124.32 L225.14 124.32 L225.92 124.32 L226.69 124.32 L227.47 124.32 L228.25 124.32 L229.03 124.32 L229.80 124.32 L230.58 124.32 L231.36 124.32 L232.14 124.32 L232.92 124.32 L233.69 124.32 L234.47 124.32 L235.25 124.32 L236.03 124.32 L236.80 124.32 L237.58 124.32 L238.36 124.32 L239.14 124.32 L239.92 124.32 L240.69 124.32 L241.47 124.32 L242.25 124.32 L243.03 124.32 L243.80 124.32 L244.58 124.32 L245.36 124.32 L246.14 124.32 L246.91 124.32 L247.69 124.32 L248.47 124.32 L249.25 124.32 L250.03 124.32 L250.80 124.32 L251.58 124.32 L252.36 124.32 L253.14 124.32 L253.91 124.32 L254.69 124.32 L255.47 124.32 L256.25 124.32 L257.03 124.32 L257.80 124.32 L258.58 124.32 L259.36 124.32 L260.14 124.32 L260.91 124.32 L261.69 124.32 L262.47 124.32 L263.25 124.32 L264.02 124.32 L264.80 124.32 L265.58 124.32 L266.36 124.32 L267.14 124.32 L267.91 124.32 L268.69 124.32 L269.47 124.32 L270.25 124.32 L271.02 124.32 L271.80 124.32 L272.58 124.32 L273.36 124.32 L274.14 124.32 L274.91 124.32 L275.69 124.32 L276.47 124.32 L277.25 124.32 L278.02 124.32 L278.80 124.32 L279.58 124.32 L280.36 124.32 L281.14 124.32 L281.91 124.32 L282.69 124.32 L283.47 124.32 L284.25 124.32 L285.02 124.32 L285.80 124.32 L286.58 124.32 L287.36 124.32 L288.13 124.32 L288.91 124.32 L289.69 124.32 L290.47 124.32 L291.25 124.32 L292.02 124.32 L292.80 124.32 L293.58 124.32 L294.36 124.32 L295.13 124.32 L295.91 124.32 L296.69 124.32 L297.47 124.32 L298.25 124.32 L299.02 124.32 L299.80 124.32 L300.58 124.32 L301.36 124.32 L302.13 124.32 L302.91 124.32 L303.69 124.32 L304.47 124.32 L305.25 124.32 L306.02 124.32 L306.80 124.32 L307.58 124.32 L308.36 124.32 L309.13 124.32 L309.91 124.32 L310.69 124.32 L311.47 124.32 L312.24 124.32 L313.02 124.32 L313.80 124.32 L314.58 124.32 L315.36 124.32 L316.13 124.32 L316.91 124.32 L317.69 124.32 L318.47 124.32 L319.24 124.32 L320.02 124.32 L320.80 124.32 L321.58 124.32 L322.36 124.32 L323.13 124.32 L323.91 124.32 L324.69 124.32 L325.47 124.32 L326.24 124.32 L327.02 124.32 L327.80 124.32 L328.58 124.32 L329.36 124.32 L330.13 124.32 L330.91 124.32 L331.69 124.32 L332.47 124.32 L333.24 124.32 L334.02 124.32 L334.80 124.32 L335.58 124.32 L336.35 124.32 L337.13 124.32 L337.91 124.32 L338.69 124.32 L339.47 124.32 L340.24 124.32 L341.02 124.32 L341.80 124.32 L342.58 124.32 L343.35 124.32 L344.13 124.32 L344.91 124.32 L345.69 124.32 L346.47 124.32 L347.24 124.32 L348.02 124.32 L348.80 124.32 L349.58 124.32 L350.35 124.32 L351.13 124.32 L351.91 124.32 L352.69 124.32 L353.46 124.32 L354.24 124.32 L355.02 124.32 L355.80 124.32 L356.58 124.32 L357.35 124.32 L358.13 124.32 L358.91 124.32 L359.69 124.32 L360.46 124.32 L361.24 124.32 L362.02 124.32 L362.80 124.32 L363.58 124.32 L364.35 124.32 L365.13 124.32 L365.91 124.32 L366.69 124.32 L367.46 124.32 L368.24 124.32 L369.02 124.32 L369.80 124.32 L370.58 124.32 L371.35 124.32 L372.13 124.32 L372.91 124.32 L373.69 124.32 L374.46 124.32 L375.24 124.32 L376.02 124.32 L376.80 124.32 L377.57 124.32 L378.35 124.32 L379.13 124.32 L379.91 124.32 L380.69 124.32 L381.46 124.32 L382.24 124.32 L383.02 124.32 L383.80 124.32 L384.57 124.32 L385.35 124.32 L386.13 124.32 L386.91 124.32 L387.69 124.32 L388.46 124.32 L389.24 124.32 L390.02 124.32 L390.80 124.32 L391.57 124.32 L392.35 124.32 L393.13 124.32 L393.91 124.32 L394.69 124.32 L395.46 124.32 L396.24 124.32 L397.02 124.32 L397.80 124.32 L398.57 124.32 L399.35 124.32 L400.13 124.32 L400.91 124.32 L401.68 124.32 L402.46 124.32 L403.24 124.32 L404.02 124.32 L404.80 124.32 L405.57 124.32 L406.35 124.32 L407.13 124.32 L407.91 124.32 L408.68 124.32 L409.46 124.32 L410.24 124.32 L411.02 124.32 L411.80 124.32 L412.57 124.32 L413.35 124.32 L414.13 124.32 L414.91 124.32 L415.68 124.32 L416.46 124.32 L417.24 124.32 L418.02 124.32 L418.79 124.32 L419.57 124.32 L420.35 124.32 L421.13 124.32 L421.91 124.32 L422.68 124.32 L423.46 124.32 L424.24 124.32 L425.02 124.32 L425.79 124.32 L426.57 124.32 L427.35 124.32 L428.13 124.32 L428.91 124.32 L429.68 124.32 L430.46 124.32 L431.24 124.32 L432.02 124.32 L432.79 124.32 L433.57 124.32 L434.35 124.32 L435.13 124.32 L435.91 124.32 L436.68 124.32 L437.46 124.32 L438.24 124.32 L439.02 124.32 L439.79 124.32 L440.57 124.32 L441.35 124.32 L442.13 124.32 L442.90 124.32 L443.68 124.32 L444.46 124.32 L445.24 124.32 L446.02 124.32 L446.79 124.32 L447.57 124.32 L448.35 124.32 L449.13 124.32 L449.90 124.32 L450.68 124.32 L451.46 124.32 L452.24 124.32 L453.02 124.32 L453.79 124.32 L454.57 124.32 L455.35 124.32 L456.13 124.32 L456.90 124.32 L457.68 124.32 L458.46 124.32 L459.24 124.32 L460.01 124.32 L460.79 124.32 L461.57 124.32 L462.35 124.32 L463.13 124.32 L463.90 124.32 L464.68 124.32 L465.46 124.32 L466.24 124.32 L467.01 124.32 L467.79 124.32 L468.57 124.32 L469.35 124.32 L470.13 124.32 L470.90 124.32 L471.68 124.32 L472.46 124.32 L473.24 124.32 L474.01 124.32 L474.79 124.32 L475.57 124.32 L476.35 124.32 L477.13 124.32 L477.90 124.32 L478.68 124.32 L479.46 124.32 L480.24 124.32 L481.01 124.32 L481.79 124.32 L482.57 124.32 L483.35 124.32 L484.12 124.32 L484.90 124.32 L485.68 124.32 L486.46 124.32 L487.24 124.32 L488.01 124.32 L488.79 124.32 L489.57 124.32 L490.35 124.32 L491.12 124.32 L491.90 124.32 L492.68 124.32 L493.46 124.32 L494.24 124.32 L495.01 124.32 L495.79 124.32 L496.57 124.32 L497.35 124.32 L498.12 124.32 L498.90 124.32 L499.68 124.32 L500.46 124.32 L501.24 124.32 L502.01 124.32 L502.79 124.32 L503.57 124.32 L504.35 124.32 L505.12 124.32 L505.90 124.32 L506.68 124.32 L507.46 124.32 L508.23 124.32 L509.01 124.32 L509.79 124.32 L510.57 124.32 L511.35 124.32 L512.12 124.32 L512.90 124.32 L513.68 124.32 L514.46 124.32 L515.23 124.32 L516.01 124.32 L516.79 124.32 L517.57 124.32 L518.35 124.32 L519.12 124.32 L519.90 124.32 L520.68 124.32 L521.46 124.32 L522.23 124.32 L523.01 124.32 L523.79 124.32 L524.57 124.32 L525.35 124.32 L526.12 124.32 L526.90 124.32 L527.68 124.32 L528.46 124.32 L529.23 124.32 L530.01 124.32 L530.79 124.32 L531.57 124.32 L532.34 124.32 L533.12 124.32 L533.90 124.32 L534.68 124.32 L535.46 124.32 L536.23 124.32 L537.01 124.32 L537.79 124.32 L538.57 124.32 L539.34 124.32 L540.12 124.32 L540.90 124.32 L541.68 124.32 L542.46 124.32 L543.23 124.32 L544.01 124.32 L544.79 124.32 L545.57 124.32 L546.34 124.32 L547.12 124.32 L547.90 124.32 L548.68 124.32 L549.45 124.32 L550.23 124.32 L551.01 124.32 L551.79 124.32 L552.57 124.32 L553.34 124.32 L554.12 124.32 L554.90 124.32 L555.68 124.32 L556.45 124.32 L557.23 124.32 L558.01 124.32 L558.79 124.32 L559.57 124.32 L560.34 124.32 L561.12 124.32 L561.90 124.32 L562.68 124.32 L563.45 124.32 L564.23 124.32 L565.01 124.32 L565.79 124.32 L566.57 124.32 L567.34 124.32 L568.12 124.32 L568.90 124.32 L569.68 124.32 L570.45 124.32 L571.23 124.32 L572.01 124.32 L572.79 124.32 L573.56 124.32 L574.34 124.32 L575.12 124.32 L575.90 124.32 L576.68 124.32 L577.45 124.32 L578.23 124.32 L579.01 124.32 L579.79 124.32 L580.56 124.32 L581.34 124.32 L582.12 124.32 L582.90 124.32 L583.68 124.32 L584.45 124.32 L585.23 124.32 L586.01 124.32 L586.79 124.32 L587.56 124.32 L588.34 124.32 L589.12 124.32 L589.90 124.32 L590.67 124.32 L591.45 124.32 L592.23 124.32 L593.01 124.32 L593.79 124.32 L594.56 124.32 L595.34 124.32 L596.12 124.32 L596.90 124.32 L597.67 124.32 L598.45 124.32 L599.23 124.32 L600.01 124.32 L600.79 124.32 L601.56 124.32 L602.34 124.32 L603.12 124.32 L603.90 124.32 L604.67 124.32 L605.45 124.32 L606.23 124.32 L607.01 124.32 L607.79 124.32 L608.56 124.32 L609.34 124.32 L610.12 124.32 L610.90 124.32 L611.67 124.32 L612.45 124.32 L613.23 124.32 L614.01 124.32 L614.78 124.32 L615.56 124.32 L616.34 124.32 L617.12 124.32 L617.90 124.32 L618.67 124.32 L619.45 124.32 L620.23 124.32 L621.01 124.32 L621.78 124.32 L622.56 124.32 L623.34 124.32 L624.12 124.32 L624.90 124.32 L625.67 124.32 L626.45 124.32 L627.23 124.32 L628.01 124.32 L628.78 124.32 L629.56 124.32 L630.34 124.32 L631.12 124.32 L631.90 124.32 L632.67 124.32 L633.45 124.32 L634.23 124.32 L635.01 124.32 L635.78 124.32 L636.56 124.32 L637.34 124.32 L638.12 124.32 L638.89 124.32 L639.67 124.32 L640.45 124.32 L641.23 124.32 L642.01 124.32 L642.78 124.32 L643.56 124.32 L644.34 124.32 L645.12 124.32 L645.89 124.32 L646.67 124.32 L647.45 124.32 L648.23 124.32 L649.01 124.32 L649.78 124.32 L650.56 124.32 L651.34 124.32 L652.12 124.32 L652.89 124.32 L653.67 124.32 L654.45 124.32 L655.23 124.32 L656.00 124.32 L656.78 124.32 L657.56 124.32 L658.34 124.32 L659.12 124.32 L659.89 124.32 L660.67 124.32" fill="none" stroke="#0000ff" stroke-width="1.9"/>
<path d="M100.70 567.30 L100.74 560.97 L100.78 554.80 L100.82 548.80 L100.86 542.96 L100.89 537.27 L100.93 531.73 L100.97 526.32 L101.01 521.06 L101.05 515.92 L101.09 510.90 L101.13 506.01 L101.17 501.23 L101.21 496.56 L101.24 492.01 L101.28 487.55 L101.32 483.20 L101.36 478.95 L101.40 474.79 L101.44 470.72 L101.48 466.74 L101.52 462.85 L101.56 459.03 L101.59 455.30 L101.63 451.65 L101.67 448.07 L101.71 444.56 L101.75 441.13 L101.79 437.76 L101.83 434.46 L101.87 431.23 L101.91 428.05 L101.94 424.94 L101.98 421.89 L102.02 418.89 L102.06 415.95 L102.10 413.07 L102.14 410.24 L102.18 407.46 L102.22 404.72 L102.26 402.04 L102.29 399.41 L102.33 396.82 L102.37 394.28 L102.41 391.78 L102.45 389.32 L102.49 386.90 L102.53 384.53 L102.57 382.19 L102.61 379.90 L102.64 377.64 L102.68 375.42 L102.72 373.23 L102.76 371.08 L102.80 368.96 L102.84 366.87 L102.88 364.82 L102.92 362.80 L102.96 360.81 L102.99 358.85 L103.03 356.93 L103.07 355.03 L103.11 353.15 L103.15 351.31 L103.19 349.49 L103.23 347.70 L103.27 345.94 L103.31 344.20 L103.34 342.48 L103.38 340.79 L103.42 339.13 L103.46 337.48 L103.50 335.86 L103.54 334.27 L103.58 332.69 L103.62 331.14 L103.66 329.60 L103.69 328.09 L103.73 326.60 L103.77 325.12 L103.81 323.67 L103.85 322.23 L103.89 320.82 L103.93 319.42 L103.97 318.04 L104.01 316.68 L104.04 315.33 L104.08 314.00 L104.12 312.69 L104.16 311.40 L104.20 310.12 L104.24 308.85 L104.28 307.60 L104.32 306.37 L104.36 305.15 L104.39 303.95 L104.43 302.76 L104.47 301.58 L104.51 300.42 L104.55 299.27 L104.59 298.14 L104.63 297.02 L104.67 295.91 L104.71 294.81 L104.74 293.73 L104.78 292.66 L104.82 291.60 L104.86 290.55 L104.90 289.51 L104.94 288.49 L104.98 287.48 L105.02 286.47 L105.06 285.48 L105.09 284.50 L105.13 283.53 L105.17 282.57 L105.21 281.62 L105.25 280.68 L105.29 279.75 L105.33 278.83 L105.37 277.92 L105.41 277.02 L105.44 276.13 L105.48 275.25 L105.52 274.37 L105.56 273.51 L105.60 272.65 L105.64 271.81 L105.68 270.97 L105.72 270.14 L105.76 269.31 L105.79 268.50 L105.83 267.69 L105.87 266.90 L105.91 266.10 L105.95 265.32 L105.99 264.55 L106.03 263.78 L106.07 263.02 L106.11 262.26 L106.14 261.52 L106.18 260.78 L106.22 260.05 L106.26 259.32 L106.30 258.60 L106.34 257.89 L106.38 257.18 L106.42 256.48 L106.46 255.79 L106.49 255.10 L106.53 254.42 L106.57 253.75 L106.61 253.08 L106.65 252.42 L106.69 251.76 L106.73 251.11 L106.77 250.46 L106.81 249.83 L106.84 249.19 L106.88 248.56 L106.92 247.94 L106.96 247.32 L107.00 246.71 L107.04 246.10 L107.08 245.50 L107.12 244.90 L107.16 244.31 L107.19 243.72 L107.23 243.14 L107.27 242.56 L107.31 241.99 L107.35 241.42 L107.39 240.86 L107.43 240.30 L107.47 239.75 L107.51 239.20 L107.54 238.65 L107.58 238.11 L107.62 237.58 L107.66 237.04 L107.70 236.52 L107.74 235.99 L107.78 235.47 L107.82 234.96 L107.86 234.44 L107.89 233.94 L107.93 233.43 L107.97 232.93 L108.01 232.44 L108.05 231.94 L108.09 231.46 L108.13 230.97 L108.17 230.49 L108.21 230.01 L108.24 229.54 L108.28 229.07 L108.32 228.60 L108.36 228.14 L108.40 227.68 L108.44 227.22 L108.48 226.77 L108.67 224.55 L108.87 222.42 L109.06 220.35 L109.26 218.36 L109.45 216.43 L109.64 214.57 L109.84 212.77 L110.03 211.03 L110.23 209.34 L110.42 207.70 L110.62 206.11 L110.81 204.57 L111.01 203.08 L111.20 201.63 L111.39 200.23 L111.59 198.86 L111.78 197.53 L111.98 196.24 L112.17 194.98 L112.37 193.75 L112.56 192.56 L112.75 191.40 L112.95 190.27 L113.14 189.17 L113.34 188.10 L113.53 187.05 L113.73 186.03 L113.92 185.03 L114.12 184.06 L114.31 183.11 L114.50 182.18 L114.70 181.28 L114.89 180.39 L115.09 179.53 L115.28 178.68 L115.48 177.86 L115.67 177.05 L115.87 176.26 L116.06 175.48 L116.25 174.72 L116.45 173.98 L116.64 173.25 L116.84 172.54 L117.03 171.85 L117.23 171.16 L117.42 170.49 L117.62 169.84 L117.81 169.19 L118.00 168.56 L118.20 167.94 L118.39 167.33 L118.59 166.74 L118.78 166.15 L118.98 165.58 L119.17 165.02 L119.37 164.46 L119.56 163.92 L119.75 163.38 L119.95 162.86 L120.14 162.35 L120.34 161.84 L120.53 161.34 L120.73 160.85 L120.92 160.37 L121.12 159.90 L121.31 159.43 L121.50 158.98 L121.70 158.53 L121.89 158.08 L122.09 157.65 L122.28 157.22 L122.48 156.80 L122.67 156.38 L122.87 155.97 L123.06 155.57 L123.25 155.18 L123.45 154.79 L123.64 154.40 L123.84 154.02 L124.03 153.65 L124.23 153.28 L124.42 152.92 L124.62 152.56 L124.81 152.21 L125.00 151.87 L125.20 151.52 L125.39 151.19 L125.59 150.86 L125.78 150.53 L125.98 150.21 L126.17 149.89 L126.37 149.57 L126.56 149.26 L126.75 148.96 L126.95 148.66 L127.14 148.36 L127.34 148.06 L127.53 147.77 L127.73 147.49 L127.92 147.21 L128.12 146.93 L128.31 146.65 L128.50 146.38 L128.70 146.11 L128.89 145.85 L129.09 145.59 L129.28 145.33 L129.48 145.07 L129.67 144.82 L129.87 144.57 L130.06 144.33 L130.25 144.08 L130.45 143.84 L130.64 143.61 L130.84 143.37 L131.03 143.14 L131.23 142.91 L131.42 142.69 L131.62 142.46 L131.81 142.24 L132.00 142.02 L132.20 141.81 L132.39 141.59 L132.59 141.38 L132.78 141.17 L132.98 140.97 L133.17 140.76 L133.37 140.56 L133.56 140.36 L133.75 140.16 L133.95 139.97 L134.14 139.77 L134.34 139.58 L134.53 139.39 L134.73 139.20 L134.92 139.02 L135.11 138.84 L135.31 138.65 L135.50 138.47 L135.70 138.30 L135.89 138.12 L136.09 137.95 L136.28 137.77 L136.48 137.60 L136.67 137.43 L136.86 137.27 L137.06 137.10 L137.25 136.94 L137.45 136.77 L137.64 136.61 L137.84 136.45 L138.03 136.30 L138.23 136.14 L138.42 135.99 L138.61 135.83 L138.81 135.68 L139.00 135.53 L139.20 135.38 L139.39 135.23 L139.59 135.09 L140.36 134.52 L141.14 133.97 L141.92 133.44 L142.70 132.92 L143.48 132.43 L144.25 131.95 L145.03 131.49 L145.81 131.04 L146.59 130.60 L147.36 130.18 L148.14 129.78 L148.92 129.38 L149.70 129.00 L150.48 128.63 L151.25 128.27 L152.03 127.92 L152.81 127.58 L153.59 127.25 L154.36 126.93 L155.14 126.61 L155.92 126.31 L156.70 126.01 L157.47 125.72 L158.25 125.44 L159.03 125.17 L159.81 124.90 L160.59 124.64 L161.36 124.39 L162.14 124.14 L162.92 123.90 L163.70 123.66 L164.47 123.43 L165.25 123.20 L166.03 122.98 L166.81 122.77 L167.59 122.56 L168.36 122.35 L169.14 122.15 L169.92 121.95 L170.70 121.76 L171.47 121.57 L172.25 121.39 L173.03 121.21 L173.81 121.03 L174.59 120.85 L175.36 120.68 L176.14 120.52 L176.92 120.35 L177.70 120.19 L178.47 120.04 L179.25 119.88 L180.03 119.73 L180.81 119.58 L181.58 119.44 L182.36 119.29 L183.14 119.15 L183.92 119.01 L184.70 118.88 L185.47 118.75 L186.25 118.62 L187.03 118.49 L187.81 118.36 L188.58 118.24 L189.36 118.12 L190.14 118.00 L190.92 117.88 L191.70 117.76 L192.47 117.65 L193.25 117.54 L194.03 117.43 L194.81 117.32 L195.58 117.21 L196.36 117.10 L197.14 117.00 L197.92 116.90 L198.69 116.80 L199.47 116.70 L200.25 116.60 L201.03 116.51 L201.81 116.41 L202.58 116.32 L203.36 116.23 L204.14 116.14 L204.92 116.05 L205.69 115.96 L206.47 115.87 L207.25 115.79 L208.03 115.71 L208.81 115.62 L209.58 115.54 L210.36 115.46 L211.14 115.38 L211.92 115.30 L212.69 115.23 L213.47 115.15 L214.25 115.07 L215.03 115.00 L215.81 114.93 L216.58 114.85 L217.36 114.78 L218.14 114.71 L218.92 114.64 L219.69 114.57 L220.47 114.51 L221.25 114.44 L222.03 114.37 L222.80 114.31 L223.58 114.24 L224.36 114.18 L225.14 114.12 L225.92 114.06 L226.69 113.99 L227.47 113.93 L228.25 113.87 L229.03 113.81 L229.80 113.76 L230.58 113.70 L231.36 113.64 L232.14 113.59 L232.92 113.53 L233.69 113.47 L234.47 113.42 L235.25 113.37 L236.03 113.31 L236.80 113.26 L237.58 113.21 L238.36 113.16 L239.14 113.10 L239.92 113.05 L240.69 113.00 L241.47 112.96 L242.25 112.91 L243.03 112.86 L243.80 112.81 L244.58 112.76 L245.36 112.72 L246.14 112.67 L246.91 112.62 L247.69 112.58 L248.47 112.53 L249.25 112.49 L250.03 112.45 L250.80 112.40 L251.58 112.36 L252.36 112.32 L253.14 112.27 L253.91 112.23 L254.69 112.19 L255.47 112.15 L256.25 112.11 L257.03 112.07 L257.80 112.03 L258.58 111.99 L259.36 111.95 L260.14 111.91 L260.91 111.88 L261.69 111.84 L262.47 111.80 L263.25 111.76 L264.02 111.73 L264.80 111.69 L265.58 111.65 L266.36 111.62 L267.14 111.58 L267.91 111.55 L268.69 111.51 L269.47 111.48 L270.25 111.44 L271.02 111.41 L271.80 111.38 L272.58 111.34 L273.36 111.31 L274.14 111.28 L274.91 111.24 L275.69 111.21 L276.47 111.18 L277.25 111.15 L278.02 111.12 L278.80 111.09 L279.58 111.06 L280.36 111.03 L281.14 110.99 L281.91 110.96 L282.69 110.94 L283.47 110.91 L284.25 110.88 L285.02 110.85 L285.80 110.82 L286.58 110.79 L287.36 110.76 L288.13 110.73 L288.91 110.71 L289.69 110.68 L290.47 110.65 L291.25 110.62 L292.02 110.60 L292.80 110.57 L293.58 110.54 L294.36 110.52 L295.13 110.49 L295.91 110.47 L296.69 110.44 L297.47 110.41 L298.25 110.39 L299.02 110.36 L299.80 110.34 L300.58 110.31 L301.36 110.29 L302.13 110.27 L302.91 110.24 L303.69 110.22 L304.47 110.19 L305.25 110.17 L306.02 110.15 L306.80 110.12 L307.58 110.10 L308.36 110.08 L309.13 110.05 L309.91 110.03 L310.69 110.01 L311.47 109.99 L312.24 109.96 L313.02 109.94 L313.80 109.92 L314.58 109.90 L315.36 109.88 L316.13 109.86 L316.91 109.84 L317.69 109.81 L318.47 109.79 L319.24 109.77 L320.02 109.75 L320.80 109.73 L321.58 109.71 L322.36 109.69 L323.13 109.67 L323.91 109.65 L324.69 109.63 L325.47 109.61 L326.24 109.59 L327.02 109.57 L327.80 109.55 L328.58 109.54 L329.36 109.52 L330.13 109.50 L330.91 109.48 L331.69 109.46 L332.47 109.44 L333.24 109.42 L334.02 109.41 L334.80 109.39 L335.58 109.37 L336.35 109.35 L337.13 109.33 L337.91 109.32 L338.69 109.30 L339.47 109.28 L340.24 109.26 L341.02 109.25 L341.80 109.23 L342.58 109.21 L343.35 109.20 L344.13 109.18 L344.91 109.16 L345.69 109.15 L346.47 109.13 L347.24 109.11 L348.02 109.10 L348.80 109.08 L349.58 109.06 L350.35 109.05 L351.13 109.03 L351.91 109.02 L352.69 109.00 L353.46 108.99 L354.24 108.97 L355.02 108.96 L355.80 108.94 L356.58 108.93 L357.35 108.91 L358.13 108.90 L358.91 108.88 L359.69 108.87 L360.46 108.85 L361.24 108.84 L362.02 108.82 L362.80 108.81 L363.58 108.79 L364.35 108.78 L365.13 108.76 L365.91 108.75 L366.69 108.74 L367.46 108.72 L368.24 108.71 L369.02 108.69 L369.80 108.68 L370.58 108.67 L371.35 108.65 L372.13 108.64 L372.91 108.63 L373.69 108.61 L374.46 108.60 L375.24 108.59 L376.02 108.57 L376.80 108.56 L377.57 108.55 L378.35 108.53 L379.13 108.52 L379.91 108.51 L380.69 108.50 L381.46 108.48 L382.24 108.47 L383.02 108.46 L383.80 108.45 L384.57 108.43 L385.35 108.42 L386.13 108.41 L386.91 108.40 L387.69 108.39 L388.46 108.37 L389.24 108.36 L390.02 108.35 L390.80 108.34 L391.57 108.33 L392.35 108.31 L393.13 108.30 L393.91 108.29 L394.69 108.28 L395.46 108.27 L396.24 108.26 L397.02 108.25 L397.80 108.23 L398.57 108.22 L399.35 108.21 L400.13 108.20 L400.91 108.19 L401.68 108.18 L402.46 108.17 L403.24 108.16 L404.02 108.15 L404.80 108.14 L405.57 108.12 L406.35 108.11 L407.13 108.10 L407.91 108.09 L408.68 108.08 L409.46 108.07 L410.24 108.06 L411.02 108.05 L411.80 108.04 L412.57 108.03 L413.35 108.02 L414.13 108.01 L414.91 108.00 L415.68 107.99 L416.46 107.98 L417.24 107.97 L418.02 107.96 L418.79 107.95 L419.57 107.94 L420.35 107.93 L421.13 107.92 L421.91 107.91 L422.68 107.90 L423.46 107.89 L424.24 107.88 L425.02 107.87 L425.79 107.86 L426.57 107.85 L427.35 107.85 L428.13 107.84 L428.91 107.83 L429.68 107.82 L430.46 107.81 L431.24 107.80 L432.02 107.79 L432.79 107.78 L433.57 107.77 L434.35 107.76 L435.13 107.75 L435.91 107.75 L436.68 107.74 L437.46 107.73 L438.24 107.72 L439.02 107.71 L439.79 107.70 L440.57 107.69 L441.35 107.68 L442.13 107.68 L442.90 107.67 L443.68 107.66 L444.46 107.65 L445.24 107.64 L446.02 107.63 L446.79 107.63 L447.57 107.62 L448.35 107.61 L449.13 107.60 L449.90 107.59 L450.68 107.58 L451.46 107.58 L452.24 107.57 L453.02 107.56 L453.79 107.55 L454.57 107.54 L455.35 107.54 L456.13 107.53 L456.90 107.52 L457.68 107.51 L458.46 107.50 L459.24 107.50 L460.01 107.49 L460.79 107.48 L461.57 107.47 L462.35 107.47 L463.13 107.46 L463.90 107.45 L464.68 107.44 L465.46 107.44 L466.24 107.43 L467.01 107.42 L467.79 107.41 L468.57 107.41 L469.35 107.40 L470.13 107.39 L470.90 107.38 L471.68 107.38 L472.46 107.37 L473.24 107.36 L474.01 107.36 L474.79 107.35 L475.57 107.34 L476.35 107.33 L477.13 107.33 L477.90 107.32 L478.68 107.31 L479.46 107.31 L480.24 107.30 L481.01 107.29 L481.79 107.29 L482.57 107.28 L483.35 107.27 L484.12 107.26 L484.90 107.26 L485.68 107.25 L486.46 107.24 L487.24 107.24 L488.01 107.23 L488.79 107.22 L489.57 107.22 L490.35 107.21 L491.12 107.20 L491.90 107.20 L492.68 107.19 L493.46 107.19 L494.24 107.18" fill="none" stroke="#0000ff" stroke-width="1.8" stroke-dasharray="6.90 5.78" stroke-dashoffset="3.69"/>
<path d="M494.24 107.18 L495.01 107.17 L495.79 107.17 L496.57 107.16 L497.35 107.15 L498.12 107.15 L498.90 107.14 L499.68 107.13 L500.46 107.13 L501.24 107.12 L502.01 107.12 L502.79 107.11 L503.57 107.10 L504.35 107.10 L505.12 107.09 L505.90 107.09 L506.68 107.08 L507.46 107.07 L508.23 107.07 L509.01 107.06 L509.79 107.06 L510.57 107.05 L511.35 107.04 L512.12 107.04 L512.90 107.03 L513.68 107.03 L514.46 107.02 L515.23 107.01 L516.01 107.01 L516.79 107.00 L517.57 107.00 L518.35 106.99 L519.12 106.99 L519.90 106.98 L520.68 106.97 L521.46 106.97 L522.23 106.96 L523.01 106.96 L523.79 106.95 L524.57 106.95 L525.35 106.94 L526.12 106.93 L526.90 106.93 L527.68 106.92 L528.46 106.92 L529.23 106.91 L530.01 106.91 L530.79 106.90 L531.57 106.90 L532.34 106.89 L533.12 106.89 L533.90 106.88 L534.68 106.88 L535.46 106.87 L536.23 106.86 L537.01 106.86 L537.79 106.85 L538.57 106.85 L539.34 106.84 L540.12 106.84 L540.90 106.83 L541.68 106.83 L542.46 106.82 L543.23 106.82 L544.01 106.81 L544.79 106.81 L545.57 106.80 L546.34 106.80 L547.12 106.79 L547.90 106.79 L548.68 106.78 L549.45 106.78 L550.23 106.77 L551.01 106.77 L551.79 106.76 L552.57 106.76 L553.34 106.75 L554.12 106.75 L554.90 106.74 L555.68 106.74 L556.45 106.73 L557.23 106.73 L558.01 106.72 L558.79 106.72 L559.57 106.71 L560.34 106.71 L561.12 106.71 L561.90 106.70 L562.68 106.70 L563.45 106.69 L564.23 106.69 L565.01 106.68 L565.79 106.68 L566.57 106.67 L567.34 106.67 L568.12 106.66 L568.90 106.66 L569.68 106.65 L570.45 106.65 L571.23 106.65 L572.01 106.64 L572.79 106.64 L573.56 106.63 L574.34 106.63 L575.12 106.62 L575.90 106.62 L576.68 106.61 L577.45 106.61 L578.23 106.61 L579.01 106.60 L579.79 106.60 L580.56 106.59 L581.34 106.59 L582.12 106.58 L582.90 106.58 L583.68 106.57 L584.45 106.57 L585.23 106.57 L586.01 106.56 L586.79 106.56 L587.56 106.55 L588.34 106.55 L589.12 106.55 L589.90 106.54 L590.67 106.54 L591.45 106.53 L592.23 106.53 L593.01 106.52 L593.79 106.52 L594.56 106.52 L595.34 106.51 L596.12 106.51 L596.90 106.50 L597.67 106.50 L598.45 106.50 L599.23 106.49 L600.01 106.49 L600.79 106.48 L601.56 106.48 L602.34 106.48 L603.12 106.47 L603.90 106.47 L604.67 106.46 L605.45 106.46 L606.23 106.46 L607.01 106.45 L607.79 106.45 L608.56 106.44 L609.34 106.44 L610.12 106.44 L610.90 106.43 L611.67 106.43 L612.45 106.43 L613.23 106.42 L614.01 106.42 L614.78 106.41 L615.56 106.41 L616.34 106.41 L617.12 106.40 L617.90 106.40 L618.67 106.40 L619.45 106.39 L620.23 106.39 L621.01 106.38 L621.78 106.38 L622.56 106.38 L623.34 106.37 L624.12 106.37 L624.90 106.37 L625.67 106.36 L626.45 106.36 L627.23 106.35 L628.01 106.35 L628.78 106.35 L629.56 106.34 L630.34 106.34 L631.12 106.34 L631.90 106.33 L632.67 106.33 L633.45 106.33 L634.23 106.32 L635.01 106.32 L635.78 106.32 L636.56 106.31 L637.34 106.31 L638.12 106.31 L638.89 106.30 L639.67 106.30 L640.45 106.29 L641.23 106.29 L642.01 106.29 L642.78 106.28 L643.56 106.28 L644.34 106.28 L645.12 106.27 L645.89 106.27 L646.67 106.27 L647.45 106.26 L648.23 106.26 L649.01 106.26 L649.78 106.25 L650.56 106.25 L651.34 106.25 L652.12 106.24 L652.89 106.24 L653.67 106.24 L654.45 106.23 L655.23 106.23 L656.00 106.23 L656.78 106.22 L657.56 106.22 L658.34 106.22 L659.12 106.22 L659.89 106.21 L660.67 106.21" fill="none" stroke="#0000ff" stroke-width="1.8" stroke-dasharray="6.90 5.78" stroke-dashoffset="7.07"/>
</g>
<text x="100.70" y="601.30" font-size="27.3" text-anchor="middle">0</text>
<text x="194.03" y="601.30" font-size="27.3" text-anchor="middle">240</text>
<text x="287.36" y="601.30" font-size="27.3" text-anchor="middle">480</text>
<text x="380.69" y="601.30" font-size="27.3" text-anchor="middle">720</text>
<text x="474.01" y="601.30" font-size="27.3" text-anchor="middle">960</text>
<text x="567.34" y="601.30" font-size="27.3" text-anchor="middle">1200</text>
<text x="660.67" y="601.30" font-size="27.3" text-anchor="middle">1440</text>
<text x="754.00" y="601.30" font-size="27.3" text-anchor="middle">1680</text>
<text x="89.50" y="486.10" font-size="27.3" text-anchor="end">0.2</text>
<text x="89.50" y="396.20" font-size="27.3" text-anchor="end">0.4</text>
<text x="89.50" y="306.30" font-size="27.3" text-anchor="end">0.6</text>
<text x="89.50" y="216.40" font-size="27.3" text-anchor="end">0.8</text>
<text x="89.50" y="126.50" font-size="27.3" text-anchor="end">1.0</text>
<text x="89.50" y="36.60" font-size="27.3" text-anchor="end">1.2</text>
<text x="427" y="647" font-size="24.7" text-anchor="middle">Contact time (min)</text>
<g transform="translate(29 0) rotate(-90)"><text x="-352.50" y="0" font-size="25.5">q</text><text x="-339.50" y="6.3" font-size="14.5">e</text><text x="-327.60" y="0" font-size="26">(mg/g)</text></g>
<rect x="473.00" y="164.70" width="13" height="13" fill="#ff0000" stroke="#000" stroke-width="1"/>
<circle cx="479.7" cy="206" r="6.9" fill="#00ff00" stroke="#000" stroke-width="1.3"/>
<path d="M479.9 231.5L488 245.6L471.8 245.6Z" fill="#0000ff" stroke="#000" stroke-width="1"/>
<path d="M448.8 275H511" stroke="#000" stroke-width="2.2"/>
<path d="M448.8 309H511" stroke="#000" stroke-width="2.2" stroke-dasharray="9.4 8.3"/>
<text x="517.30" y="181.60" font-size="27.35">zeolite</text>
<text x="517.30" y="215.60" font-size="27.35">biochar</text>
<text x="517.30" y="249.60" font-size="27.35">PZC 7:3</text>
<text x="517.30" y="284.40" font-size="27.35">Pseudo-first order</text>
<text x="517.30" y="319.40" font-size="27.35">Pseudo-second order</text>
</svg></body></html>
